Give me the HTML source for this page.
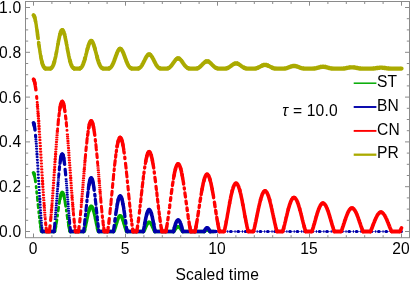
<!DOCTYPE html>
<html><head><meta charset="utf-8"><title>plot</title>
<style>
html,body{margin:0;padding:0;background:#fff;}
body{width:412px;height:285px;overflow:hidden;position:relative;}
.t{font-family:"Liberation Sans",sans-serif;font-size:15.6px;letter-spacing:0.2px;fill:#000;}
</style></head><body>
<svg width="412" height="285" viewBox="0 0 412 285" style="position:absolute;left:0;top:0">
<rect width="412" height="285" fill="#fff"/>
<g fill="none" stroke="#00aa00" stroke-linecap="round" stroke-linejoin="round"><path d="M37.2 196.9L37.4 198.8L37.5 200.6M37.9 204.3L38.1 206.2L38.3 208.0" stroke-width="2.6"/><path d="M34.6 176.0L34.8 176.9M36.1 186.4L36.3 188.0M36.6 191.5L36.8 193.3M38.7 211.5L38.8 213.2M39.2 216.4L39.4 217.9M40.7 226.9h0M55.8 226.4L55.9 225.4L56.1 224.4M59.8 200.1L60.0 199.1M64.4 198.4L64.6 199.3L64.8 200.4M68.3 223.3L68.5 224.4" stroke-width="2.7"/><path d="M39.8 220.8L39.9 222.2L40.1 223.5M57.4 216.2L57.6 214.9M58.2 211.0L58.3 209.7L58.5 208.4L58.7 207.2M66.3 210.0L66.4 211.2M67.0 215.1L67.2 216.3L67.4 217.6L67.5 218.8" stroke-width="2.8"/><path d="M35.0 178.0L35.2 179.2L35.3 180.5L35.5 181.8M40.5 225.9h0M56.3 223.3L56.5 222.2L56.7 221.1L56.9 219.9M59.3 203.5L59.4 202.3L59.6 201.2M65.0 201.5L65.1 202.6L65.3 203.7L65.5 204.9L65.7 206.2M68.1 222.2h0" stroke-width="2.9"/><path d="M34.2 174.4L34.4 175.1L34.6 176.0M40.7 226.9L40.9 228.0L41.0 228.9L41.2 229.8L41.4 230.6M54.7 231.2L54.8 230.6L55.0 229.8L55.2 229.0L55.4 228.2L55.6 227.3L55.8 226.4M60.0 199.1L60.2 198.1L60.4 197.2L60.5 196.4L60.7 195.6M63.7 195.1L63.9 195.8L64.0 196.6L64.2 197.5L64.4 198.4M68.5 224.4L68.6 225.4L68.8 226.3L69.0 227.2L69.2 228.1L69.4 228.9L69.6 229.7L69.7 230.4M84.7 230.0L84.8 229.3L85.0 228.6L85.2 227.9L85.4 227.1L85.6 226.4L85.8 225.6L85.9 224.7L86.1 223.9L86.3 223.0L86.5 222.1L86.7 221.3L86.9 220.4L87.0 219.5L87.2 218.6L87.4 217.7L87.6 216.8L87.8 215.9L88.0 215.0L88.1 214.2L88.3 213.4L88.5 212.6L88.7 211.8L88.9 211.1M93.5 210.6L93.7 211.3L93.9 212.0L94.0 212.8L94.2 213.6L94.4 214.4L94.6 215.3L94.8 216.1L95.0 217.0L95.1 217.9L95.3 218.8L95.5 219.6L95.7 220.5L95.9 221.4L96.1 222.3L96.2 223.1L96.4 224.0L96.6 224.8L96.8 225.6L97.0 226.4L97.2 227.2L97.3 227.9L97.5 228.6" stroke-width="3.1"/><path d="M33.5 172.8L33.7 173.0L33.9 173.3L34.1 173.8L34.2 174.4M41.4 230.6L41.6 231.4M41.6 231.4L41.8 231.5L42.0 231.5L42.1 231.5L42.3 231.5L42.5 231.5L42.7 231.5L42.9 231.5L43.1 231.5L43.3 231.5L43.4 231.5L43.6 231.5L43.8 231.5L44.0 231.5L44.2 231.5L44.4 231.5L44.5 231.5L44.7 231.5L44.9 231.5L45.1 231.5L45.3 231.5L45.5 231.5L45.6 231.5L45.8 231.5L46.0 231.5L46.2 231.5L46.4 231.5L46.6 231.5L46.7 231.5L46.9 231.5L47.1 231.5L47.3 231.5L47.5 231.5L47.7 231.5L47.9 231.5L48.0 231.5L48.2 231.5L48.4 231.5L48.6 231.5L48.8 231.5L49.0 231.5L49.1 231.5L49.3 231.5L49.5 231.5L49.7 231.5L49.9 231.5L50.1 231.5L50.2 231.5L50.4 231.5L50.6 231.5L50.8 231.5L51.0 231.5L51.2 231.5L51.3 231.5L51.5 231.5L51.7 231.5L51.9 231.5L52.1 231.5L52.3 231.5L52.5 231.5L52.6 231.5L52.8 231.5L53.0 231.5L53.2 231.5L53.4 231.5L53.6 231.5L53.7 231.5L53.9 231.5L54.1 231.5L54.3 231.5M54.3 231.5L54.5 231.5L54.7 231.2M60.7 195.6L60.9 194.9L61.1 194.3L61.3 193.8L61.5 193.4L61.7 193.0L61.8 192.8L62.0 192.6M62.0 192.6L62.2 192.5L62.4 192.5M62.4 192.5L62.6 192.6L62.8 192.8L62.9 193.1L63.1 193.5L63.3 194.0L63.5 194.5L63.7 195.1M69.7 230.4L69.9 231.1L70.1 231.5M70.1 231.5L70.3 231.5L70.5 231.5L70.7 231.5L70.9 231.5L71.0 231.5L71.2 231.5L71.4 231.5L71.6 231.5L71.8 231.5L72.0 231.5L72.1 231.5L72.3 231.5L72.5 231.5L72.7 231.5L72.9 231.5L73.1 231.5L73.2 231.5L73.4 231.5L73.6 231.5L73.8 231.5L74.0 231.5L74.2 231.5L74.3 231.5L74.5 231.5L74.7 231.5L74.9 231.5L75.1 231.5L75.3 231.5L75.5 231.5L75.6 231.5L75.8 231.5L76.0 231.5L76.2 231.5L76.4 231.5L76.6 231.5L76.7 231.5L76.9 231.5L77.1 231.5L77.3 231.5L77.5 231.5L77.7 231.5L77.8 231.5L78.0 231.5L78.2 231.5L78.4 231.5L78.6 231.5L78.8 231.5L78.9 231.5L79.1 231.5L79.3 231.5L79.5 231.5L79.7 231.5L79.9 231.5L80.1 231.5L80.2 231.5L80.4 231.5L80.6 231.5L80.8 231.5L81.0 231.5L81.2 231.5L81.3 231.5L81.5 231.5L81.7 231.5L81.9 231.5L82.1 231.5L82.3 231.5L82.4 231.5L82.6 231.5L82.8 231.5L83.0 231.5L83.2 231.5L83.4 231.5L83.5 231.5L83.7 231.5L83.9 231.5M83.9 231.5L84.1 231.5L84.3 231.2L84.5 230.6L84.7 230.0M88.9 211.1L89.1 210.4L89.3 209.8L89.4 209.2L89.6 208.6L89.8 208.1L90.0 207.7L90.2 207.3L90.4 206.9L90.5 206.7L90.7 206.5L90.9 206.3M90.9 206.3L91.1 206.2L91.3 206.2L91.5 206.3M91.5 206.3L91.6 206.4L91.8 206.5L92.0 206.8L92.2 207.1L92.4 207.4L92.6 207.8L92.7 208.3L92.9 208.8L93.1 209.4L93.3 210.0L93.5 210.6M97.5 228.6L97.7 229.3L97.9 229.9L98.1 230.6L98.3 231.1L98.5 231.5M98.5 231.5L98.6 231.5L98.8 231.5L99.0 231.5L99.2 231.5L99.4 231.5L99.6 231.5L99.7 231.5L99.9 231.5L100.1 231.5L100.3 231.5L100.5 231.5L100.7 231.5L100.8 231.5L101.0 231.5L101.2 231.5L101.4 231.5L101.6 231.5L101.8 231.5L101.9 231.5L102.1 231.5L102.3 231.5L102.5 231.5L102.7 231.5L102.9 231.5L103.1 231.5L103.2 231.5L103.4 231.5L103.6 231.5L103.8 231.5L104.0 231.5L104.2 231.5L104.3 231.5L104.5 231.5L104.7 231.5L104.9 231.5L105.1 231.5L105.3 231.5L105.4 231.5L105.6 231.5L105.8 231.5L106.0 231.5L106.2 231.5L106.4 231.5L106.5 231.5L106.7 231.5L106.9 231.5L107.1 231.5L107.3 231.5L107.5 231.5L107.7 231.5L107.8 231.5L108.0 231.5L108.2 231.5L108.4 231.5L108.6 231.5L108.8 231.5L108.9 231.5L109.1 231.5L109.3 231.5L109.5 231.5L109.7 231.5L109.9 231.5L110.0 231.5L110.2 231.5L110.4 231.5L110.6 231.5L110.8 231.5L111.0 231.5L111.1 231.5L111.3 231.5L111.5 231.5L111.7 231.5L111.9 231.5L112.1 231.5L112.3 231.5L112.4 231.5L112.6 231.5L112.8 231.5L113.0 231.5L113.2 231.5L113.4 231.5L113.5 231.5L113.7 231.5M113.7 231.5L113.9 231.4L114.1 230.9L114.3 230.4L114.5 229.9L114.6 229.3L114.8 228.8L115.0 228.2L115.2 227.6L115.4 227.0L115.6 226.4L115.7 225.8L115.9 225.2L116.1 224.5L116.3 223.9L116.5 223.3L116.7 222.7L116.9 222.1L117.0 221.5L117.2 220.9L117.4 220.4L117.6 219.8L117.8 219.3L118.0 218.8L118.1 218.4L118.3 217.9L118.5 217.5L118.7 217.2L118.9 216.8L119.1 216.6L119.2 216.3L119.4 216.1L119.6 215.9L119.8 215.8M119.8 215.8L120.0 215.7L120.2 215.7L120.3 215.7L120.5 215.8M120.5 215.8L120.7 215.9L120.9 216.0L121.1 216.2L121.3 216.4L121.5 216.7L121.6 217.0L121.8 217.3L122.0 217.7L122.2 218.1L122.4 218.5L122.6 219.0L122.7 219.5L122.9 220.0L123.1 220.5L123.3 221.1L123.5 221.7L123.7 222.3L123.8 222.9L124.0 223.5L124.2 224.1L124.4 224.7L124.6 225.3L124.8 225.9L124.9 226.5L125.1 227.1L125.3 227.7L125.5 228.3L125.7 228.9L125.9 229.4L126.1 230.0L126.2 230.5L126.4 231.0L126.6 231.4M126.6 231.4L126.8 231.5L127.0 231.5L127.2 231.5L127.3 231.5L127.5 231.5L127.7 231.5L127.9 231.5L128.1 231.5L128.3 231.5L128.4 231.5L128.6 231.5L128.8 231.5L129.0 231.5L129.2 231.5L129.4 231.5L129.5 231.5L129.7 231.5L129.9 231.5L130.1 231.5L130.3 231.5L130.5 231.5L130.7 231.5L130.8 231.5L131.0 231.5L131.2 231.5L131.4 231.5L131.6 231.5L131.8 231.5L131.9 231.5L132.1 231.5L132.3 231.5L132.5 231.5L132.7 231.5L132.9 231.5L133.0 231.5L133.2 231.5L133.4 231.5L133.6 231.5L133.8 231.5L134.0 231.5L134.1 231.5L134.3 231.5L134.5 231.5L134.7 231.5L134.9 231.5L135.1 231.5L135.3 231.5L135.4 231.5L135.6 231.5L135.8 231.5L136.0 231.5L136.2 231.5L136.4 231.5L136.5 231.5L136.7 231.5L136.9 231.5L137.1 231.5L137.3 231.5L137.5 231.5L137.6 231.5L137.8 231.5L138.0 231.5L138.2 231.5L138.4 231.5L138.6 231.5L138.7 231.5L138.9 231.5L139.1 231.5L139.3 231.5L139.5 231.5L139.7 231.5L139.9 231.5L140.0 231.5L140.2 231.5L140.4 231.5L140.6 231.5L140.8 231.5L141.0 231.5L141.1 231.5L141.3 231.5L141.5 231.5L141.7 231.5L141.9 231.5L142.1 231.5L142.2 231.5L142.4 231.5L142.6 231.5L142.8 231.5L143.0 231.5L143.2 231.5L143.3 231.5L143.5 231.5M143.5 231.5L143.7 231.5L143.9 231.1L144.1 230.7L144.3 230.3L144.5 229.9L144.6 229.4L144.8 229.0L145.0 228.6L145.2 228.1L145.4 227.7L145.6 227.3L145.7 226.9L145.9 226.5L146.1 226.1L146.3 225.7L146.5 225.3L146.7 224.9L146.8 224.6L147.0 224.2L147.2 223.9L147.4 223.7L147.6 223.4L147.8 223.2L147.9 222.9L148.1 222.8L148.3 222.6L148.5 222.5L148.7 222.4M148.7 222.4L148.9 222.3L149.1 222.3L149.2 222.3L149.4 222.3L149.6 222.3M149.6 222.3L149.8 222.4L150.0 222.5L150.2 222.7L150.3 222.8L150.5 223.0L150.7 223.3L150.9 223.5L151.1 223.8L151.3 224.1L151.4 224.4L151.6 224.7L151.8 225.1L152.0 225.4L152.2 225.8L152.4 226.2L152.5 226.6L152.7 227.0L152.9 227.4L153.1 227.9L153.3 228.3L153.5 228.7L153.7 229.1L153.8 229.6L154.0 230.0L154.2 230.4L154.4 230.8L154.6 231.2L154.8 231.5M154.8 231.5L154.9 231.5L155.1 231.5L155.3 231.5L155.5 231.5L155.7 231.5L155.9 231.5L156.0 231.5L156.2 231.5L156.4 231.5L156.6 231.5L156.8 231.5L157.0 231.5L157.1 231.5L157.3 231.5L157.5 231.5L157.7 231.5L157.9 231.5L158.1 231.5L158.3 231.5L158.4 231.5L158.6 231.5L158.8 231.5L159.0 231.5L159.2 231.5L159.4 231.5L159.5 231.5L159.7 231.5L159.9 231.5L160.1 231.5L160.3 231.5L160.5 231.5L160.6 231.5L160.8 231.5L161.0 231.5L161.2 231.5L161.4 231.5L161.6 231.5L161.7 231.5L161.9 231.5L162.1 231.5L162.3 231.5L162.5 231.5L162.7 231.5L162.9 231.5L163.0 231.5L163.2 231.5L163.4 231.5L163.6 231.5L163.8 231.5L164.0 231.5L164.1 231.5L164.3 231.5L164.5 231.5L164.7 231.5L164.9 231.5L165.1 231.5L165.2 231.5L165.4 231.5L165.6 231.5L165.8 231.5L166.0 231.5L166.2 231.5L166.3 231.5L166.5 231.5L166.7 231.5L166.9 231.5L167.1 231.5L167.3 231.5L167.5 231.5L167.6 231.5L167.8 231.5L168.0 231.5L168.2 231.5L168.4 231.5L168.6 231.5L168.7 231.5L168.9 231.5L169.1 231.5L169.3 231.5L169.5 231.5L169.7 231.5L169.8 231.5L170.0 231.5L170.2 231.5L170.4 231.5L170.6 231.5L170.8 231.5L170.9 231.5L171.1 231.5L171.3 231.5L171.5 231.5L171.7 231.5L171.9 231.5L172.1 231.5L172.2 231.5L172.4 231.5L172.6 231.5L172.8 231.5L173.0 231.5L173.2 231.5L173.3 231.5L173.5 231.5M173.5 231.5L173.7 231.5L173.9 231.3L174.1 231.0L174.3 230.7L174.4 230.4L174.6 230.1L174.8 229.8L175.0 229.6L175.2 229.3L175.4 229.0L175.5 228.8L175.7 228.5L175.9 228.3L176.1 228.1L176.3 227.9L176.5 227.7L176.7 227.5L176.8 227.3L177.0 227.2L177.2 227.1L177.4 227.0M177.4 227.0L177.6 226.9L177.8 226.9L177.9 226.8L178.1 226.8L178.3 226.8L178.5 226.8L178.7 226.9L178.9 226.9M178.9 226.9L179.0 227.0L179.2 227.1L179.4 227.3L179.6 227.4L179.8 227.6L180.0 227.8L180.1 228.0L180.3 228.2L180.5 228.4L180.7 228.6L180.9 228.9L181.1 229.1L181.3 229.4L181.4 229.7L181.6 230.0L181.8 230.2L182.0 230.5L182.2 230.8L182.4 231.1L182.5 231.4M182.5 231.4L182.7 231.5L182.9 231.5L183.1 231.5L183.3 231.5L183.5 231.5L183.6 231.5L183.8 231.5L184.0 231.5L184.2 231.5L184.4 231.5L184.6 231.5L184.7 231.5L184.9 231.5L185.1 231.5L185.3 231.5L185.5 231.5L185.7 231.5L185.9 231.5L186.0 231.5L186.2 231.5L186.4 231.5L186.6 231.5L186.8 231.5L187.0 231.5L187.1 231.5L187.3 231.5L187.5 231.5L187.7 231.5L187.9 231.5L188.1 231.5L188.2 231.5L188.4 231.5L188.6 231.5L188.8 231.5L189.0 231.5L189.2 231.5L189.3 231.5L189.5 231.5L189.7 231.5L189.9 231.5L190.1 231.5L190.3 231.5L190.5 231.5L190.6 231.5L190.8 231.5L191.0 231.5L191.2 231.5L191.4 231.5L191.6 231.5L191.7 231.5L191.9 231.5L192.1 231.5L192.3 231.5L192.5 231.5L192.7 231.5L192.8 231.5L193.0 231.5L193.2 231.5L193.4 231.5L193.6 231.5L193.8 231.5L193.9 231.5L194.1 231.5L194.3 231.5L194.5 231.5L194.7 231.5L194.9 231.5L195.1 231.5L195.2 231.5L195.4 231.5L195.6 231.5L195.8 231.5L196.0 231.5L196.2 231.5L196.3 231.5L196.5 231.5L196.7 231.5L196.9 231.5L197.1 231.5L197.3 231.5L197.4 231.5L197.6 231.5L197.8 231.5L198.0 231.5L198.2 231.5L198.4 231.5L198.5 231.5L198.7 231.5L198.9 231.5L199.1 231.5L199.3 231.5L199.5 231.5L199.7 231.5L199.8 231.5L200.0 231.5L200.2 231.5L200.4 231.5L200.6 231.5L200.8 231.5L200.9 231.5L201.1 231.5L201.3 231.5L201.5 231.5L201.7 231.5L201.9 231.5L202.0 231.5L202.2 231.5L202.4 231.5L202.6 231.5L202.8 231.5L203.0 231.5L203.1 231.5L203.3 231.5L203.5 231.5L203.7 231.5L203.9 231.5L204.1 231.5L204.3 231.5M204.3 231.5L204.4 231.4L204.6 231.2L204.8 231.0L205.0 230.9L205.2 230.7L205.4 230.6L205.5 230.5L205.7 230.4L205.9 230.3L206.1 230.2M206.1 230.2L206.3 230.1L206.5 230.0L206.6 230.0L206.8 230.0L207.0 229.9L207.2 229.9L207.4 230.0L207.6 230.0L207.7 230.0L207.9 230.1L208.1 230.1M208.1 230.1L208.3 230.2L208.5 230.3L208.7 230.4L208.9 230.5L209.0 230.7L209.2 230.8L209.4 231.0L209.6 231.1L209.8 231.3L210.0 231.5M210.0 231.5L210.1 231.5L210.3 231.5L210.5 231.5L210.7 231.5L210.9 231.5L211.1 231.5L211.2 231.5L211.4 231.5L211.6 231.5L211.8 231.5L212.0 231.5L212.2 231.5L212.3 231.5L212.5 231.5L212.7 231.5L212.9 231.5L213.1 231.5L213.3 231.5L213.5 231.5L213.6 231.5L213.8 231.5" stroke-width="3.6"/></g>
<g fill="none" stroke="#0000aa" stroke-linecap="round" stroke-linejoin="round"><path d="M35.2 139.3h1.4M41.1 227.2h1.4M54.5 219.1h1.4M57.7 180.0h1.4M57.8 177.9h1.4M65.4 179.1h1.4M65.6 181.2h1.4M68.3 215.3h1.4M68.5 217.4h1.4" stroke-width="1.7"/><path d="M35.4 141.5h1.3M40.8 222.8h1.3M40.9 225.1h1.3M54.7 216.9h1.3M54.9 214.7h1.3M55.1 212.5h1.3M55.3 210.2h1.3M57.2 186.7h1.3M57.5 182.2h1.3M65.8 183.4h1.3M66.0 185.6h1.3M66.2 187.9h1.3M66.4 190.2h1.3M67.5 204.0h1.3M67.6 206.3h1.3M67.8 208.6h1.3M68.0 210.9h1.3M68.2 213.1h1.3" stroke-width="1.8"/><path d="M35.7 143.8h1.2M40.6 220.5h1.2M55.5 207.9h1.2M55.7 205.5h1.2M55.9 203.2h1.2M56.1 200.8h1.2M56.3 198.4h1.2M56.5 196.1h1.2M56.6 193.7h1.2M56.8 191.3h1.2M57.0 189.0h1.2M66.5 192.5h1.2M66.7 194.8h1.2M66.9 197.1h1.2M67.1 199.4h1.2M67.3 201.7h1.2" stroke-width="1.9"/><path d="M35.9 146.3h1.1M40.3 215.5h1.1M40.5 218.0h1.1" stroke-width="2.0"/><path d="M36.1 148.8h1.0M36.3 151.5h1.0M40.2 212.9h1.0" stroke-width="2.1"/><path d="M36.7 157.0h0.9M36.9 159.8h0.9M37.1 162.7h0.9M37.3 165.7h0.9M37.5 168.7h0.9M37.6 171.7h0.9M37.8 174.7h0.9M38.0 177.8h0.9M38.2 180.9h0.9M38.4 183.9h0.9M38.6 187.0h0.9M38.8 190.0h0.9M38.9 193.0h0.9M39.1 196.0h0.9M39.5 201.9h0.9M39.7 204.7h0.9M39.9 207.5h0.9M40.0 210.3h0.9" stroke-width="2.2"/><path d="M42.0 229.3h0M58.7 175.8L58.9 173.8M69.4 219.5L69.6 221.5L69.7 223.5" stroke-width="3.0"/><path d="M35.5 135.2L35.7 137.2M54.3 229.1L54.5 227.2L54.7 225.3L54.8 223.3M59.3 169.9L59.4 168.2L59.6 166.5M70.1 227.3L70.3 229.1M85.9 210.6L86.1 208.8L86.3 207.0L86.5 205.2" stroke-width="3.1"/><path d="M65.1 169.3L65.3 171.1L65.5 173.0L65.7 175.0M84.5 224.6L84.7 223.0L84.8 221.2L85.0 219.5M85.4 215.9L85.6 214.2M86.9 201.7L87.0 200.0M87.4 196.7L87.6 195.1L87.8 193.5L88.0 192.0M95.3 199.3L95.5 201.0L95.7 202.7L95.9 204.4M96.2 207.9L96.4 209.7L96.6 211.4L96.8 213.2M97.2 216.7L97.3 218.4L97.5 220.1M97.9 223.5L98.1 225.1L98.3 226.7" stroke-width="3.2"/><path d="M37.0 154.2h0M39.8 199.0h0M58.0 184.4h0M60.0 163.4L60.2 161.9M83.9 229.5L84.1 227.9M94.8 194.5L95.0 196.1M98.6 229.8h0" stroke-width="3.3"/><path d="M34.8 128.6L35.0 130.0M42.3 231.5L42.5 231.5L42.7 231.5L42.9 231.5L43.1 231.5L43.3 231.5L43.4 231.5L43.6 231.5L43.8 231.5L44.0 231.5L44.2 231.5L44.4 231.5L44.5 231.5L44.7 231.5L44.9 231.5L45.1 231.5L45.3 231.5L45.5 231.5L45.6 231.5L45.8 231.5L46.0 231.5L46.2 231.5L46.4 231.5L46.6 231.5L46.7 231.5L46.9 231.5L47.1 231.5L47.3 231.5L47.5 231.5L47.7 231.5L47.9 231.5L48.0 231.5L48.2 231.5L48.4 231.5L48.6 231.5L48.8 231.5L49.0 231.5L49.1 231.5L49.3 231.5L49.5 231.5L49.7 231.5L49.9 231.5L50.1 231.5L50.2 231.5L50.4 231.5L50.6 231.5L50.8 231.5L51.0 231.5L51.2 231.5L51.3 231.5L51.5 231.5L51.7 231.5L51.9 231.5L52.1 231.5L52.3 231.5L52.5 231.5L52.6 231.5L52.8 231.5L53.0 231.5L53.2 231.5L53.4 231.5L53.6 231.5L53.7 231.5M62.0 154.3L62.2 154.2M64.2 161.5L64.4 162.9L64.6 164.4M70.7 231.5L70.9 231.5L71.0 231.5L71.2 231.5L71.4 231.5L71.6 231.5L71.8 231.5L72.0 231.5L72.1 231.5L72.3 231.5L72.5 231.5L72.7 231.5L72.9 231.5L73.1 231.5L73.2 231.5L73.4 231.5L73.6 231.5L73.8 231.5L74.0 231.5L74.2 231.5L74.3 231.5L74.5 231.5L74.7 231.5L74.9 231.5L75.1 231.5L75.3 231.5L75.5 231.5L75.6 231.5L75.8 231.5L76.0 231.5L76.2 231.5L76.4 231.5L76.6 231.5L76.7 231.5L76.9 231.5L77.1 231.5L77.3 231.5L77.5 231.5L77.7 231.5L77.8 231.5L78.0 231.5L78.2 231.5L78.4 231.5L78.6 231.5L78.8 231.5L78.9 231.5L79.1 231.5L79.3 231.5L79.5 231.5L79.7 231.5L79.9 231.5L80.1 231.5L80.2 231.5L80.4 231.5L80.6 231.5L80.8 231.5L81.0 231.5L81.2 231.5L81.3 231.5L81.5 231.5L81.7 231.5L81.9 231.5L82.1 231.5L82.3 231.5L82.4 231.5L82.6 231.5L82.8 231.5L83.0 231.5L83.2 231.5L83.4 231.5M88.3 189.2h0M90.9 178.1L91.1 178.0L91.3 178.0M94.0 188.8L94.2 190.2M99.0 231.5L99.2 231.5L99.4 231.5L99.6 231.5L99.7 231.5L99.9 231.5L100.1 231.5L100.3 231.5L100.5 231.5L100.7 231.5L100.8 231.5L101.0 231.5L101.2 231.5L101.4 231.5L101.6 231.5L101.8 231.5L101.9 231.5L102.1 231.5L102.3 231.5L102.5 231.5L102.7 231.5L102.9 231.5L103.1 231.5L103.2 231.5L103.4 231.5L103.6 231.5L103.8 231.5L104.0 231.5L104.2 231.5L104.3 231.5L104.5 231.5L104.7 231.5L104.9 231.5L105.1 231.5L105.3 231.5L105.4 231.5L105.6 231.5L105.8 231.5L106.0 231.5L106.2 231.5L106.4 231.5L106.5 231.5L106.7 231.5L106.9 231.5L107.1 231.5L107.3 231.5L107.5 231.5L107.7 231.5L107.8 231.5L108.0 231.5L108.2 231.5L108.4 231.5L108.6 231.5L108.8 231.5L108.9 231.5L109.1 231.5L109.3 231.5L109.5 231.5L109.7 231.5L109.9 231.5L110.0 231.5L110.2 231.5L110.4 231.5L110.6 231.5L110.8 231.5L111.0 231.5L111.1 231.5L111.3 231.5L111.5 231.5L111.7 231.5L111.9 231.5L112.1 231.5L112.3 231.5L112.4 231.5L112.6 231.5L112.8 231.5L113.0 231.5L113.2 231.5M113.7 229.4L113.9 228.1L114.1 226.8L114.3 225.4M114.8 221.3L115.0 220.0L115.2 218.6M115.7 214.6L115.9 213.3M120.0 196.1L120.2 196.0L120.3 196.0M124.8 215.4L124.9 216.7M125.5 220.7L125.7 222.1L125.9 223.4M126.4 227.3h0M127.2 231.5L127.3 231.5L127.5 231.5L127.7 231.5L127.9 231.5L128.1 231.5L128.3 231.5L128.4 231.5L128.6 231.5L128.8 231.5L129.0 231.5L129.2 231.5L129.4 231.5L129.5 231.5L129.7 231.5L129.9 231.5L130.1 231.5L130.3 231.5L130.5 231.5L130.7 231.5L130.8 231.5L131.0 231.5L131.2 231.5L131.4 231.5L131.6 231.5L131.8 231.5L131.9 231.5L132.1 231.5L132.3 231.5L132.5 231.5L132.7 231.5L132.9 231.5L133.0 231.5L133.2 231.5L133.4 231.5L133.6 231.5L133.8 231.5L134.0 231.5L134.1 231.5L134.3 231.5L134.5 231.5L134.7 231.5L134.9 231.5L135.1 231.5L135.3 231.5L135.4 231.5L135.6 231.5L135.8 231.5L136.0 231.5L136.2 231.5L136.4 231.5L136.5 231.5L136.7 231.5L136.9 231.5L137.1 231.5L137.3 231.5L137.5 231.5L137.6 231.5L137.8 231.5L138.0 231.5L138.2 231.5L138.4 231.5L138.6 231.5L138.7 231.5L138.9 231.5L139.1 231.5L139.3 231.5L139.5 231.5L139.7 231.5L139.9 231.5L140.0 231.5L140.2 231.5L140.4 231.5L140.6 231.5L140.8 231.5L141.0 231.5L141.1 231.5L141.3 231.5L141.5 231.5L141.7 231.5L141.9 231.5L142.1 231.5L142.2 231.5L142.4 231.5L142.6 231.5L142.8 231.5L143.0 231.5L143.2 231.5M148.9 209.7L149.1 209.7L149.2 209.7M155.1 231.5L155.3 231.5L155.5 231.5L155.7 231.5L155.9 231.5L156.0 231.5L156.2 231.5L156.4 231.5L156.6 231.5L156.8 231.5L157.0 231.5L157.1 231.5L157.3 231.5L157.5 231.5L157.7 231.5L157.9 231.5L158.1 231.5L158.3 231.5L158.4 231.5L158.6 231.5L158.8 231.5L159.0 231.5L159.2 231.5L159.4 231.5L159.5 231.5L159.7 231.5L159.9 231.5L160.1 231.5L160.3 231.5L160.5 231.5L160.6 231.5L160.8 231.5L161.0 231.5L161.2 231.5L161.4 231.5L161.6 231.5L161.7 231.5L161.9 231.5L162.1 231.5L162.3 231.5L162.5 231.5L162.7 231.5L162.9 231.5L163.0 231.5L163.2 231.5L163.4 231.5L163.6 231.5L163.8 231.5L164.0 231.5L164.1 231.5L164.3 231.5L164.5 231.5L164.7 231.5L164.9 231.5L165.1 231.5L165.2 231.5L165.4 231.5L165.6 231.5L165.8 231.5L166.0 231.5L166.2 231.5L166.3 231.5L166.5 231.5L166.7 231.5L166.9 231.5L167.1 231.5L167.3 231.5L167.5 231.5L167.6 231.5L167.8 231.5L168.0 231.5L168.2 231.5L168.4 231.5L168.6 231.5L168.7 231.5L168.9 231.5L169.1 231.5L169.3 231.5L169.5 231.5L169.7 231.5L169.8 231.5L170.0 231.5L170.2 231.5L170.4 231.5L170.6 231.5L170.8 231.5L170.9 231.5L171.1 231.5L171.3 231.5L171.5 231.5L171.7 231.5L171.9 231.5L172.1 231.5L172.2 231.5L172.4 231.5L172.6 231.5L172.8 231.5L173.0 231.5L173.2 231.5L173.3 231.5M177.8 220.1L177.9 220.1L178.1 220.0L178.3 220.1M182.9 231.5L183.1 231.5L183.3 231.5L183.5 231.5L183.6 231.5L183.8 231.5L184.0 231.5L184.2 231.5L184.4 231.5L184.6 231.5L184.7 231.5L184.9 231.5L185.1 231.5L185.3 231.5L185.5 231.5L185.7 231.5L185.9 231.5L186.0 231.5L186.2 231.5L186.4 231.5L186.6 231.5L186.8 231.5L187.0 231.5L187.1 231.5L187.3 231.5L187.5 231.5L187.7 231.5L187.9 231.5L188.1 231.5L188.2 231.5L188.4 231.5L188.6 231.5L188.8 231.5L189.0 231.5L189.2 231.5L189.3 231.5L189.5 231.5L189.7 231.5L189.9 231.5L190.1 231.5L190.3 231.5L190.5 231.5L190.6 231.5L190.8 231.5L191.0 231.5L191.2 231.5L191.4 231.5L191.6 231.5L191.7 231.5L191.9 231.5L192.1 231.5L192.3 231.5L192.5 231.5L192.7 231.5L192.8 231.5L193.0 231.5L193.2 231.5L193.4 231.5L193.6 231.5L193.8 231.5L193.9 231.5L194.1 231.5L194.3 231.5L194.5 231.5L194.7 231.5L194.9 231.5L195.1 231.5L195.2 231.5L195.4 231.5L195.6 231.5L195.8 231.5L196.0 231.5L196.2 231.5L196.3 231.5L196.5 231.5L196.7 231.5L196.9 231.5L197.1 231.5L197.3 231.5L197.4 231.5L197.6 231.5L197.8 231.5L198.0 231.5L198.2 231.5L198.4 231.5L198.5 231.5L198.7 231.5L198.9 231.5L199.1 231.5L199.3 231.5L199.5 231.5L199.7 231.5L199.8 231.5L200.0 231.5L200.2 231.5L200.4 231.5L200.6 231.5L200.8 231.5L200.9 231.5L201.1 231.5L201.3 231.5L201.5 231.5L201.7 231.5L201.9 231.5L202.0 231.5L202.2 231.5L202.4 231.5L202.6 231.5L202.8 231.5L203.0 231.5L203.1 231.5L203.3 231.5L203.5 231.5L203.7 231.5L203.9 231.5L204.1 231.5M206.6 228.0L206.8 227.9L207.0 227.9L207.2 227.9L207.4 227.9M210.0 231.5L210.1 231.5L210.3 231.5L210.5 231.5L210.7 231.5L210.9 231.5L211.1 231.5L211.2 231.5L211.4 231.5L211.6 231.5L211.8 231.5L212.0 231.5L212.2 231.5L212.3 231.5L212.5 231.5L212.7 231.5L212.9 231.5L213.1 231.5L213.3 231.5L213.5 231.5L213.6 231.5L213.8 231.5L214.0 231.5L214.2 231.5L214.4 231.5L214.6 231.5L214.7 231.5L214.9 231.5L215.1 231.5L215.3 231.5L215.5 231.5L215.7 231.5" stroke-width="3.4"/><path d="M34.2 125.2L34.4 126.1L34.6 127.3M42.1 231.3h0M53.9 231.5L54.1 230.9M60.4 160.6L60.5 159.5L60.7 158.4M63.7 158.1L63.9 159.1L64.0 160.3M70.5 230.9h0M83.5 231.5L83.7 231.1M88.5 187.9L88.7 186.6L88.9 185.5L89.1 184.4M93.1 183.1L93.3 184.1L93.5 185.2L93.7 186.3L93.9 187.5M113.4 231.5L113.5 230.7M116.1 212.0L116.3 210.8L116.5 209.5L116.7 208.3L116.9 207.2L117.0 206.1L117.2 205.0L117.4 204.0M122.9 203.8L123.1 204.8L123.3 205.8L123.5 206.9L123.7 208.0L123.8 209.2L124.0 210.4L124.2 211.6L124.4 212.9L124.6 214.1M126.6 228.6L126.8 229.9M143.3 231.4L143.5 230.4L143.7 229.4L143.9 228.3L144.1 227.3L144.3 226.3L144.5 225.2L144.6 224.2L144.8 223.2M153.7 223.9L153.8 224.9L154.0 225.9L154.2 226.9L154.4 227.9L154.6 228.9L154.8 229.9" stroke-width="3.5"/><path d="M33.9 123.7L34.1 124.3L34.2 125.2M60.7 158.4L60.9 157.4L61.1 156.6M63.1 155.7L63.3 156.4L63.5 157.2L63.7 158.1M89.1 184.4L89.3 183.3L89.4 182.4L89.6 181.5L89.8 180.8M92.4 180.0L92.6 180.6L92.7 181.4L92.9 182.2L93.1 183.1M98.8 231.3h0M117.4 204.0L117.6 203.0L117.8 202.1L118.0 201.2L118.1 200.4L118.3 199.7M121.8 198.9L122.0 199.6L122.2 200.3L122.4 201.1L122.6 201.9L122.7 202.8L122.9 203.8M126.8 229.9L127.0 231.1M144.8 223.2L145.0 222.3L145.2 221.3L145.4 220.4L145.6 219.4L145.7 218.6L145.9 217.7L146.1 216.9L146.3 216.1L146.5 215.3L146.7 214.6M151.4 213.8L151.6 214.5L151.8 215.2L152.0 215.9L152.2 216.7L152.4 217.5L152.5 218.4L152.7 219.2L152.9 220.1L153.1 221.0L153.3 222.0L153.5 222.9L153.7 223.9M154.8 229.9L154.9 230.9M173.5 231.4L173.7 230.7L173.9 229.9L174.1 229.2L174.3 228.5L174.4 227.8M181.6 227.0L181.8 227.6L182.0 228.3L182.2 229.0L182.4 229.7L182.5 230.5" stroke-width="3.6"/><path d="M33.5 122.9L33.7 123.2L33.9 123.7M42.1 231.3L42.3 231.5M53.7 231.5L53.9 231.5M61.1 156.6L61.3 155.9L61.5 155.3L61.7 154.8L61.8 154.5L62.0 154.3M62.2 154.2L62.4 154.2L62.6 154.4L62.8 154.7L62.9 155.1L63.1 155.7M70.5 230.9L70.7 231.5M83.4 231.5L83.5 231.5M89.8 180.8L90.0 180.1L90.2 179.5L90.4 179.0L90.5 178.6L90.7 178.3L90.9 178.1M91.3 178.0L91.5 178.1L91.6 178.3L91.8 178.5L92.0 178.9L92.2 179.4L92.4 180.0M98.8 231.3L99.0 231.5M113.2 231.5L113.4 231.5M118.3 199.7L118.5 199.0L118.7 198.4L118.9 197.9L119.1 197.4L119.2 197.0L119.4 196.6L119.6 196.4L119.8 196.2L120.0 196.1M120.3 196.0L120.5 196.2L120.7 196.3L120.9 196.6L121.1 196.9L121.3 197.3L121.5 197.8L121.6 198.3L121.8 198.9M127.0 231.1L127.2 231.5M143.2 231.5L143.3 231.4M146.7 214.6L146.8 213.9L147.0 213.3L147.2 212.7L147.4 212.2L147.6 211.7L147.8 211.3L147.9 210.9L148.1 210.5L148.3 210.3L148.5 210.0L148.7 209.9L148.9 209.7M149.2 209.7L149.4 209.7L149.6 209.8L149.8 210.0L150.0 210.2L150.2 210.5L150.3 210.8L150.5 211.2L150.7 211.6L150.9 212.1L151.1 212.6L151.3 213.2L151.4 213.8M154.9 230.9L155.1 231.5M173.3 231.5L173.5 231.4M174.4 227.8L174.6 227.1L174.8 226.4L175.0 225.8L175.2 225.2L175.4 224.6L175.5 224.0L175.7 223.5L175.9 223.0L176.1 222.5L176.3 222.1L176.5 221.7L176.7 221.4L176.8 221.1L177.0 220.8L177.2 220.6L177.4 220.4L177.6 220.2L177.8 220.1M178.3 220.1L178.5 220.1L178.7 220.2L178.9 220.4L179.0 220.6L179.2 220.8L179.4 221.0L179.6 221.4L179.8 221.7L180.0 222.1L180.1 222.5L180.3 223.0L180.5 223.4L180.7 224.0L180.9 224.5L181.1 225.1L181.3 225.7L181.4 226.3L181.6 227.0M182.5 230.5L182.7 231.2L182.9 231.5M204.1 231.5L204.3 231.5L204.4 231.1L204.6 230.7L204.8 230.3L205.0 229.9L205.2 229.6L205.4 229.3L205.5 229.0L205.7 228.8L205.9 228.5L206.1 228.4L206.3 228.2L206.5 228.1L206.6 228.0M207.4 227.9L207.6 228.0L207.7 228.1L207.9 228.2L208.1 228.4L208.3 228.5L208.5 228.8L208.7 229.0L208.9 229.3L209.0 229.6L209.2 229.9L209.4 230.3L209.6 230.7L209.8 231.1L210.0 231.5" stroke-width="3.7"/></g>
<path d="M215.7 231.5H401.5" stroke="#0000aa" stroke-width="1" stroke-opacity="0.55" fill="none"/>
<path d="M215.7 231.5H401.5" stroke="#0000aa" stroke-width="3.0" stroke-linecap="round" stroke-dasharray="0.7 6.7" fill="none"/>
<path d="M215.7 231.5H401.5" stroke="#0000aa" stroke-width="2.6" stroke-dasharray="1.1 6.3" stroke-dashoffset="-4.0" fill="none"/>
<g fill="none" stroke="#ff0000" stroke-linecap="round" stroke-linejoin="round"><path d="M36.6 104.4h1.6M44.3 217.0h1.6M50.4 214.4h1.6M56.4 133.0h1.6M66.6 134.4h1.6M72.4 211.0h1.6M80.5 204.8h1.6M80.7 202.6h1.6M83.7 167.1h1.6M83.9 164.9h1.6M84.0 162.8h1.6M97.1 165.9h1.6M97.3 168.0h1.6M97.5 170.2h1.6M97.7 172.3h1.6M97.9 174.5h1.6M98.0 176.6h1.6M98.2 178.8h1.6M98.6 183.1h1.6M98.8 185.3h1.6M99.0 187.5h1.6M99.1 189.6h1.6M99.5 193.9h1.6M99.7 196.0h1.6" stroke-width="1.7"/><path d="M37.0 108.9h1.5M44.0 212.6h1.5M44.1 214.8h1.5M50.6 212.2h1.5M51.0 207.8h1.5M56.0 139.7h1.5M56.1 137.4h1.5M56.3 135.2h1.5M66.8 136.5h1.5M67.0 138.7h1.5M67.2 141.0h1.5M71.8 202.3h1.5M72.1 206.7h1.5M81.1 198.3h1.5M81.3 196.1h1.5M81.5 193.9h1.5M81.7 191.7h1.5M81.9 189.4h1.5M82.1 187.2h1.5M82.3 184.9h1.5M82.4 182.7h1.5M82.6 180.4h1.5M82.8 178.2h1.5M83.0 175.9h1.5M83.2 173.7h1.5M83.3 171.5h1.5" stroke-width="1.8"/><path d="M37.2 111.2h1.4M43.7 207.9h1.4M43.8 210.2h1.4M51.4 203.1h1.4M55.5 146.8h1.4M55.6 144.4h1.4M55.8 142.0h1.4M67.4 143.3h1.4M67.6 145.6h1.4M67.8 148.0h1.4M68.0 150.4h1.4M71.1 192.8h1.4M71.3 195.2h1.4M71.6 199.9h1.4" stroke-width="1.9"/><path d="M37.8 118.5h1.3M43.4 202.9h1.3M51.6 200.7h1.3M51.8 198.2h1.3M52.0 195.7h1.3M52.2 193.2h1.3M54.8 156.8h1.3M55.1 151.7h1.3M55.3 149.2h1.3M68.2 152.8h1.3M68.3 155.2h1.3M68.5 157.7h1.3M68.7 160.2h1.3M68.9 162.7h1.3M69.1 165.2h1.3M69.3 167.8h1.3M69.5 170.3h1.3M69.7 172.8h1.3M69.9 175.4h1.3M70.2 180.4h1.3M70.4 182.9h1.3M70.6 185.4h1.3M70.7 187.9h1.3M70.9 190.4h1.3" stroke-width="2.0"/><path d="M38.2 123.6h1.2M43.0 197.7h1.2M43.2 200.3h1.2M52.4 190.6h1.2M52.6 188.1h1.2M52.8 185.5h1.2M53.0 182.9h1.2M53.1 180.3h1.2M53.3 177.6h1.2M53.5 175.0h1.2M53.7 172.4h1.2M54.1 167.1h1.2M54.2 164.5h1.2M54.4 161.9h1.2" stroke-width="2.1"/><path d="M38.6 128.9h1.1M38.8 131.7h1.1M39.0 134.5h1.1M39.2 137.3h1.1M39.4 140.1h1.1M39.6 143.0h1.1M39.8 145.9h1.1M39.9 148.8h1.1M40.1 151.7h1.1M40.3 154.7h1.1M40.5 157.6h1.1M40.7 160.6h1.1M40.9 163.5h1.1M41.0 166.5h1.1M41.2 169.4h1.1M41.4 172.4h1.1M41.6 175.3h1.1M41.8 178.2h1.1M42.3 186.8h1.1M42.5 189.6h1.1M42.7 192.3h1.1M42.9 195.0h1.1" stroke-width="2.2"/><path d="M37.2 102.3h0M45.3 219.0h0M57.6 128.8h0M67.0 130.2h0M73.4 213.1L73.6 215.1M81.2 206.8h0M85.2 158.6L85.4 156.5L85.6 154.5M97.5 161.8L97.7 163.8M100.7 198.1L100.8 200.2L101.0 202.3M101.4 206.3L101.6 208.3L101.8 210.2L101.9 212.1" stroke-width="3.0"/><path d="M36.6 96.5L36.8 98.4M45.6 222.9L45.8 224.8M50.6 220.5L50.8 218.5L51.0 216.5M58.0 124.8L58.2 123.0L58.3 121.2L58.5 119.4M66.3 122.5L66.4 124.3L66.6 126.2M74.0 219.0L74.2 220.8L74.3 222.5M80.4 214.8L80.6 212.9L80.8 210.9M85.9 150.6L86.1 148.7L86.3 146.9M86.7 143.3L86.9 141.6L87.0 140.0L87.2 138.4M95.9 144.6L96.1 146.4L96.2 148.2L96.4 150.0M96.8 153.8L97.0 155.7L97.2 157.7M102.3 215.7L102.5 217.5M109.9 213.7L110.0 212.0L110.2 210.2L110.4 208.4M110.8 204.7L111.0 202.9L111.1 201.0L111.3 199.1M111.7 195.2L111.9 193.3L112.1 191.4M112.4 187.5L112.6 185.6L112.8 183.6M113.2 179.8L113.4 178.0L113.5 176.1L113.7 174.2M114.1 170.6L114.3 168.9M126.4 171.7L126.6 173.5L126.8 175.2L127.0 177.0M127.3 180.7L127.5 182.5M127.9 186.2L128.1 188.1L128.3 190.0M128.6 193.7L128.8 195.5L129.0 197.4L129.2 199.2M129.5 202.9L129.7 204.6L129.9 206.4" stroke-width="3.1"/><path d="M46.2 228.1L46.4 229.6M58.9 116.1L59.1 114.6L59.3 113.2M65.5 115.9L65.7 117.4L65.9 119.1M74.7 225.8L74.9 227.3M79.7 222.0L79.9 220.3L80.1 218.5M95.3 139.7L95.5 141.3M102.9 220.8L103.1 222.4L103.2 223.9L103.4 225.4M114.6 165.4L114.8 163.7L115.0 162.1L115.2 160.5M115.6 157.4L115.7 156.0L115.9 154.5M125.5 163.3L125.7 164.9L125.9 166.6L126.1 168.2M130.3 209.9L130.5 211.6M130.8 214.9L131.0 216.5M131.4 219.6L131.6 221.0M139.3 213.2L139.5 211.7L139.7 210.1M140.0 206.9L140.2 205.3M140.6 202.0L140.8 200.3L141.0 198.7M141.3 195.4L141.5 193.7L141.7 192.1L141.9 190.4M142.2 187.2L142.4 185.6L142.6 184.0L142.8 182.4M143.2 179.3L143.3 177.8L143.5 176.3M156.0 186.4L156.2 188.0L156.4 189.6M156.8 192.7L157.0 194.3L157.1 195.9M157.5 199.1L157.7 200.7L157.9 202.3M158.3 205.5L158.4 207.0L158.6 208.6M159.0 211.6L159.2 213.1L159.4 214.5" stroke-width="3.2"/><path d="M49.5 230.4L49.7 229.0L49.9 227.4L50.1 225.8M59.6 110.5L59.8 109.3M75.3 230.1h0M78.8 229.5L78.9 228.1L79.1 226.7M87.6 135.4L87.8 134.0L88.0 132.7L88.1 131.4M103.8 228.1L104.0 229.4M108.8 223.4L108.9 221.9L109.1 220.3L109.3 218.7M116.3 151.8L116.5 150.5M124.8 157.1L124.9 158.6M131.9 223.8L132.1 225.2M138.2 222.0L138.4 220.6L138.6 219.2L138.7 217.8M143.9 173.5L144.1 172.1M144.6 168.1L144.8 166.9M154.2 171.8L154.4 173.2M154.9 177.4L155.1 178.8L155.3 180.3L155.5 181.8M159.7 217.4L159.9 218.8L160.1 220.1L160.3 221.4M167.8 219.9L168.0 218.6L168.2 217.3M168.7 213.2L168.9 211.9M169.5 207.7L169.7 206.2L169.8 204.8M170.4 200.6L170.6 199.1L170.8 197.7M171.3 193.6L171.5 192.2L171.7 190.8L171.9 189.5M172.4 185.6L172.6 184.3L172.8 183.1L173.0 181.9M184.2 187.8L184.4 189.1M184.9 193.0L185.1 194.4L185.3 195.7L185.5 197.1M186.0 201.2L186.2 202.5L186.4 203.9M187.0 208.0L187.1 209.3L187.3 210.7M187.9 214.6L188.1 215.9L188.2 217.2L188.4 218.4M199.1 207.6L199.3 206.4L199.5 205.1" stroke-width="3.3"/><path d="M35.2 84.8L35.3 86.0L35.5 87.2L35.7 88.5L35.9 89.9M64.6 109.2L64.8 110.4L65.0 111.6M94.0 130.1L94.2 131.3L94.4 132.6L94.6 133.9L94.8 135.2M107.8 229.9L108.0 228.8L108.2 227.5M117.0 147.0h0M123.5 148.1L123.7 149.2L123.8 150.4L124.0 151.7L124.2 153.0M132.7 228.9h0M137.3 228.3L137.5 227.1L137.6 225.9M145.4 163.4h0M153.1 164.4L153.3 165.6L153.5 166.8L153.7 168.0M160.8 225.2L161.0 226.3L161.2 227.5M166.9 225.9L167.1 224.7L167.3 223.5M173.5 178.5h0M182.9 179.5L183.1 180.6L183.3 181.7L183.5 182.9L183.6 184.1M189.0 222.0L189.2 223.1L189.3 224.3M196.9 221.7L197.1 220.6L197.3 219.5M197.8 216.0L198.0 214.8L198.2 213.6L198.4 212.4L198.5 211.2M200.0 201.5L200.2 200.3L200.4 199.2L200.6 198.0M201.1 194.6L201.3 193.5M213.3 195.4L213.5 196.5L213.6 197.7M214.4 202.2L214.6 203.4L214.7 204.6L214.9 205.7L215.1 206.9M215.7 210.4L215.8 211.6L216.0 212.8L216.2 213.9M216.8 217.3L216.9 218.4" stroke-width="3.4"/><path d="M34.8 82.8L35.0 83.8M37.5 106.6h0M38.1 113.5h0M38.3 116.0h0M38.7 121.0h0M39.0 126.3h0M42.5 181.1h0M42.7 183.9h0M44.2 205.4h0M51.5 210.0h0M51.9 205.4h0M54.5 169.7h0M55.2 159.3h0M55.6 154.2h0M57.4 130.9h0M60.0 108.2L60.2 107.2M64.2 107.1L64.4 108.1M70.7 177.9h0M72.1 197.6h0M72.7 204.5h0M73.1 208.9h0M78.4 231.5L78.6 230.7M81.7 200.5h0M84.3 169.3h0M85.0 160.7h0M88.7 128.0h0M93.5 127.0L93.7 128.0L93.9 129.0M99.2 181.0h0M100.1 191.8h0M104.2 230.5h0M117.2 146.0h0M122.9 144.9L123.1 145.9L123.3 147.0M132.9 230.0h0M136.7 231.4L136.9 230.4L137.1 229.4M145.6 162.3L145.7 161.3M152.4 160.3L152.5 161.3L152.7 162.3L152.9 163.3M161.4 228.5L161.6 229.6M166.2 230.0L166.3 229.0L166.5 228.0L166.7 226.9M173.7 177.4L173.9 176.4L174.1 175.4M182.2 175.3L182.4 176.3L182.5 177.3L182.7 178.4M189.5 225.3L189.7 226.4L189.9 227.4M196.0 226.9L196.2 226.0L196.3 224.9L196.5 223.9L196.7 222.8M201.5 192.4L201.7 191.3L201.9 190.3L202.0 189.3M212.2 189.2L212.3 190.2L212.5 191.2L212.7 192.2L212.9 193.3L213.1 194.3M217.1 219.5L217.3 220.6L217.5 221.6L217.7 222.7L217.9 223.7M226.3 221.5L226.5 220.5L226.7 219.5L226.9 218.5L227.1 217.5L227.3 216.4L227.4 215.4L227.6 214.4L227.8 213.3L228.0 212.3L228.2 211.2L228.4 210.2L228.5 209.2L228.7 208.1L228.9 207.1L229.1 206.1L229.3 205.0L229.5 204.0L229.6 203.0M242.9 204.8L243.1 205.7L243.3 206.7L243.4 207.7L243.6 208.7L243.8 209.7L244.0 210.7L244.2 211.8L244.4 212.8L244.5 213.8L244.7 214.8L244.9 215.8L245.1 216.8" stroke-width="3.5"/><path d="M34.2 80.6L34.4 81.3L34.6 82.0L34.8 82.8M46.6 231.0h0M60.2 107.2L60.4 106.2L60.5 105.3L60.7 104.6M63.5 103.8L63.7 104.5L63.9 105.3L64.0 106.1L64.2 107.1M75.5 231.3h0M88.7 128.0L88.9 127.0L89.1 126.1L89.3 125.3L89.4 124.5M92.7 123.8L92.9 124.5L93.1 125.2L93.3 126.1L93.5 127.0M107.5 231.5L107.7 231.1M117.2 146.0L117.4 145.0L117.6 144.0L117.8 143.1L118.0 142.3L118.1 141.6M122.0 140.9L122.2 141.6L122.4 142.3L122.6 143.1L122.7 144.0L122.9 144.9M132.9 230.0L133.0 231.0M145.7 161.3L145.9 160.3L146.1 159.4L146.3 158.5L146.5 157.7L146.7 156.9L146.8 156.2M151.3 155.5L151.4 156.2L151.6 156.9L151.8 157.7L152.0 158.5L152.2 159.4L152.4 160.3M161.6 229.6L161.7 230.5M165.8 231.5L166.0 230.9L166.2 230.0M174.1 175.4L174.3 174.4L174.4 173.4L174.6 172.5L174.8 171.7L175.0 170.9L175.2 170.1L175.4 169.4M180.7 168.7L180.9 169.4L181.1 170.1L181.3 170.9L181.4 171.7L181.6 172.6L181.8 173.4L182.0 174.4L182.2 175.3M189.9 227.4L190.1 228.4L190.3 229.3L190.5 230.2M195.1 231.4L195.2 230.6L195.4 229.7L195.6 228.8L195.8 227.9L196.0 226.9M202.0 189.3L202.2 188.3L202.4 187.3L202.6 186.4L202.8 185.5L203.0 184.6L203.1 183.7L203.3 182.9L203.5 182.1L203.7 181.4L203.9 180.6M210.1 180.0L210.3 180.7L210.5 181.4L210.7 182.2L210.9 182.9L211.1 183.7L211.2 184.6L211.4 185.4L211.6 186.3L211.8 187.3L212.0 188.2L212.2 189.2M217.9 223.7L218.1 224.7L218.2 225.6L218.4 226.6L218.6 227.5L218.8 228.4L219.0 229.2L219.2 230.1L219.3 230.8M224.3 231.1L224.5 230.4L224.7 229.6L224.9 228.8L225.0 228.0L225.2 227.1L225.4 226.2L225.6 225.3L225.8 224.4L226.0 223.4L226.1 222.5L226.3 221.5M229.6 203.0L229.8 202.1L230.0 201.1L230.2 200.1L230.4 199.2L230.6 198.3L230.7 197.4L230.9 196.5L231.1 195.6L231.3 194.8L231.5 194.0L231.7 193.2L231.9 192.4L232.0 191.7L232.2 191.0M239.8 190.4L239.9 191.0L240.1 191.7L240.3 192.5L240.5 193.2L240.7 194.0L240.9 194.8L241.1 195.6L241.2 196.5L241.4 197.3L241.6 198.2L241.8 199.1L242.0 200.0L242.2 200.9L242.3 201.9L242.5 202.8L242.7 203.8L242.9 204.8M245.1 216.8L245.3 217.7L245.5 218.7L245.7 219.7L245.8 220.6L246.0 221.6L246.2 222.5L246.4 223.4L246.6 224.3L246.8 225.2L246.9 226.1L247.1 226.9L247.3 227.7L247.5 228.5L247.7 229.3L247.9 230.0L248.0 230.7M253.6 231.0L253.7 230.3L253.9 229.6L254.1 228.9L254.3 228.1L254.5 227.4L254.7 226.6L254.9 225.8L255.0 225.0L255.2 224.1L255.4 223.3L255.6 222.4L255.8 221.6L256.0 220.7L256.1 219.8L256.3 218.9L256.5 218.0L256.7 217.1L256.9 216.3L257.1 215.4L257.2 214.5L257.4 213.6L257.6 212.7L257.8 211.8L258.0 210.9L258.2 210.0L258.3 209.2L258.5 208.3L258.7 207.5L258.9 206.6L259.1 205.8L259.3 205.0L259.5 204.2L259.6 203.4L259.8 202.7L260.0 201.9L260.2 201.2L260.4 200.5L260.6 199.8M269.6 199.8L269.8 200.5L269.9 201.2L270.1 201.9L270.3 202.7L270.5 203.4L270.7 204.2L270.9 204.9L271.0 205.7L271.2 206.5L271.4 207.3L271.6 208.2L271.8 209.0L272.0 209.8L272.1 210.7L272.3 211.5L272.5 212.4L272.7 213.2L272.9 214.1L273.1 215.0L273.3 215.8L273.4 216.7L273.6 217.5L273.8 218.4L274.0 219.3L274.2 220.1L274.4 220.9L274.5 221.8L274.7 222.6L274.9 223.4L275.1 224.2L275.3 225.0L275.5 225.8L275.6 226.5L275.8 227.3L276.0 228.0L276.2 228.7L276.4 229.4M283.6 228.4L283.7 227.7L283.9 227.0L284.1 226.3L284.3 225.6L284.5 224.9L284.7 224.1L284.8 223.4L285.0 222.6L285.2 221.9L285.4 221.1L285.6 220.4L285.8 219.6L285.9 218.8L286.1 218.1L286.3 217.3L286.5 216.5L286.7 215.8L286.9 215.0L287.1 214.3L287.2 213.5L287.4 212.8L287.6 212.0L287.8 211.3L288.0 210.6L288.2 209.9L288.3 209.2M299.7 209.2L299.9 209.9L300.1 210.6L300.3 211.3L300.5 212.0L300.7 212.7L300.9 213.4L301.0 214.1L301.2 214.8L301.4 215.6L301.6 216.3L301.8 217.0L302.0 217.8L302.1 218.5L302.3 219.2L302.5 220.0L302.7 220.7L302.9 221.5L303.1 222.2L303.2 222.9L303.4 223.6L303.6 224.3L303.8 225.0L304.0 225.7L304.2 226.4" stroke-width="3.6"/><path d="M33.5 79.2L33.7 79.4L33.9 79.7L34.1 80.1L34.2 80.6M46.6 231.0L46.7 231.5M49.1 231.5L49.3 231.5M60.7 104.6L60.9 103.9L61.1 103.3L61.3 102.8L61.5 102.4L61.7 102.0L61.8 101.8L62.0 101.7M62.2 101.6L62.4 101.7L62.6 101.8L62.8 102.0L62.9 102.3L63.1 102.8L63.3 103.3L63.5 103.8M75.5 231.3L75.6 231.5M78.2 231.5L78.4 231.5M89.4 124.5L89.6 123.8L89.8 123.2L90.0 122.6L90.2 122.2L90.4 121.8L90.5 121.4L90.7 121.2L90.9 121.1M91.3 121.0L91.5 121.1L91.6 121.2L91.8 121.4L92.0 121.8L92.2 122.1L92.4 122.6L92.6 123.2L92.7 123.8M104.2 230.5L104.3 231.5M107.3 231.5L107.5 231.5M118.1 141.6L118.3 140.9L118.5 140.2L118.7 139.7L118.9 139.2L119.1 138.7L119.2 138.4L119.4 138.1L119.6 137.8L119.8 137.7M120.3 137.6L120.5 137.7L120.7 137.8L120.9 138.1L121.1 138.4L121.3 138.8L121.5 139.2L121.6 139.7L121.8 140.3L122.0 140.9M133.0 231.0L133.2 231.5M136.5 231.5L136.7 231.4M146.8 156.2L147.0 155.5L147.2 154.9L147.4 154.3L147.6 153.8L147.8 153.3L147.9 152.9L148.1 152.6L148.3 152.3L148.5 152.1L148.7 151.9L148.9 151.8M149.2 151.8L149.4 151.8L149.6 151.9L149.8 152.1L150.0 152.3L150.2 152.6L150.3 153.0L150.5 153.4L150.7 153.8L150.9 154.4L151.1 154.9L151.3 155.5M161.7 230.5L161.9 231.5M165.6 231.5L165.8 231.5M175.4 169.4L175.5 168.7L175.7 168.0L175.9 167.4L176.1 166.9L176.3 166.4L176.5 165.9L176.7 165.5L176.8 165.1L177.0 164.8L177.2 164.5L177.4 164.3L177.6 164.1L177.8 164.0M178.3 164.0L178.5 164.0L178.7 164.2L178.9 164.3L179.0 164.6L179.2 164.8L179.4 165.2L179.6 165.5L179.8 166.0L180.0 166.4L180.1 166.9L180.3 167.5L180.5 168.1L180.7 168.7M190.5 230.2L190.6 231.1L190.8 231.5M194.9 231.5L195.1 231.4M203.9 180.6L204.1 180.0L204.3 179.3L204.4 178.7L204.6 178.1L204.8 177.6L205.0 177.1L205.2 176.7L205.4 176.2L205.5 175.9L205.7 175.5L205.9 175.2L206.1 175.0L206.3 174.8L206.5 174.6L206.6 174.5M207.4 174.4L207.6 174.5L207.7 174.7L207.9 174.8L208.1 175.0L208.3 175.3L208.5 175.6L208.7 175.9L208.9 176.3L209.0 176.7L209.2 177.2L209.4 177.7L209.6 178.2L209.8 178.8L210.0 179.4L210.1 180.0M219.3 230.8L219.5 231.5M223.9 231.5L224.1 231.5L224.3 231.1M232.2 191.0L232.4 190.3L232.6 189.6L232.8 189.0L233.0 188.4L233.1 187.8L233.3 187.3L233.5 186.8L233.7 186.3L233.9 185.9L234.1 185.5L234.2 185.1L234.4 184.8L234.6 184.5L234.8 184.2L235.0 184.0L235.2 183.8L235.3 183.6L235.5 183.5M236.5 183.4L236.6 183.5L236.8 183.6L237.0 183.8L237.2 184.0L237.4 184.2L237.6 184.5L237.7 184.8L237.9 185.2L238.1 185.5L238.3 186.0L238.5 186.4L238.7 186.9L238.8 187.4L239.0 187.9L239.2 188.5L239.4 189.1L239.6 189.7L239.8 190.4M248.0 230.7L248.2 231.4M253.2 231.5L253.4 231.5L253.6 231.0M260.6 199.8L260.7 199.1L260.9 198.5L261.1 197.8L261.3 197.2L261.5 196.7L261.7 196.1L261.8 195.6L262.0 195.1L262.2 194.6L262.4 194.2L262.6 193.7L262.8 193.4L262.9 193.0L263.1 192.7L263.3 192.4L263.5 192.1L263.7 191.8L263.9 191.6L264.1 191.4L264.2 191.3L264.4 191.2M265.3 191.0L265.5 191.1L265.7 191.2L265.9 191.3L266.1 191.5L266.3 191.7L266.4 191.9L266.6 192.2L266.8 192.4L267.0 192.7L267.2 193.1L267.4 193.5L267.5 193.8L267.7 194.3L267.9 194.7L268.1 195.2L268.3 195.7L268.5 196.2L268.7 196.8L268.8 197.3L269.0 197.9L269.2 198.5L269.4 199.2L269.6 199.8M276.4 229.4L276.6 230.1L276.7 230.7L276.9 231.4M282.5 231.5L282.6 231.5L282.8 231.0L283.0 230.3L283.2 229.7L283.4 229.1L283.6 228.4M288.3 209.2L288.5 208.5L288.7 207.9L288.9 207.2L289.1 206.6L289.3 206.0L289.4 205.4L289.6 204.8L289.8 204.2L290.0 203.7L290.2 203.2L290.4 202.7L290.5 202.2L290.7 201.7L290.9 201.3L291.1 200.9L291.3 200.5L291.5 200.1L291.7 199.8L291.8 199.4L292.0 199.1L292.2 198.9L292.4 198.6L292.6 198.4L292.8 198.2L292.9 198.0L293.1 197.9L293.3 197.8M294.4 197.6L294.6 197.7L294.8 197.8L295.0 197.9L295.1 198.1L295.3 198.3L295.5 198.5L295.7 198.7L295.9 199.0L296.1 199.2L296.3 199.5L296.4 199.9L296.6 200.2L296.8 200.6L297.0 201.0L297.2 201.4L297.4 201.8L297.5 202.3L297.7 202.8L297.9 203.3L298.1 203.8L298.3 204.3L298.5 204.9L298.6 205.5L298.8 206.0L299.0 206.6L299.2 207.3L299.4 207.9L299.6 208.5L299.7 209.2M304.2 226.4L304.3 227.1L304.5 227.7L304.7 228.4L304.9 229.0L305.1 229.6L305.3 230.2L305.5 230.8L305.6 231.4M311.7 231.5L311.9 231.5L312.1 231.0L312.3 230.5L312.4 229.9L312.6 229.3L312.8 228.7L313.0 228.1L313.2 227.5L313.4 226.9L313.5 226.3L313.7 225.6L313.9 225.0L314.1 224.4L314.3 223.7L314.5 223.1L314.7 222.4L314.8 221.7L315.0 221.1L315.2 220.4L315.4 219.8L315.6 219.1L315.8 218.5L315.9 217.8L316.1 217.2L316.3 216.5L316.5 215.9L316.7 215.3L316.9 214.7L317.0 214.1L317.2 213.5L317.4 212.9L317.6 212.3L317.8 211.8L318.0 211.2L318.1 210.7L318.3 210.2L318.5 209.6L318.7 209.2L318.9 208.7L319.1 208.2L319.3 207.8L319.4 207.4L319.6 207.0L319.8 206.6L320.0 206.2L320.2 205.9L320.4 205.5L320.5 205.2L320.7 204.9L320.9 204.7L321.1 204.4L321.3 204.2L321.5 204.0L321.6 203.8L321.8 203.7L322.0 203.5L322.2 203.4M323.5 203.3L323.7 203.4L323.9 203.5L324.0 203.6L324.2 203.7L324.4 203.9L324.6 204.1L324.8 204.3L325.0 204.5L325.1 204.8L325.3 205.0L325.5 205.3L325.7 205.6L325.9 206.0L326.1 206.3L326.2 206.7L326.4 207.1L326.6 207.5L326.8 207.9L327.0 208.3L327.2 208.8L327.3 209.3L327.5 209.7L327.7 210.2L327.9 210.7L328.1 211.3L328.3 211.8L328.5 212.4L328.6 212.9L328.8 213.5L329.0 214.1L329.2 214.7L329.4 215.3L329.6 215.9L329.7 216.5L329.9 217.1L330.1 217.7L330.3 218.3L330.5 219.0L330.7 219.6L330.8 220.2L331.0 220.9L331.2 221.5L331.4 222.1L331.6 222.8L331.8 223.4L331.9 224.0L332.1 224.6L332.3 225.3L332.5 225.9L332.7 226.5L332.9 227.1L333.1 227.7L333.2 228.2L333.4 228.8L333.6 229.4L333.8 229.9L334.0 230.4L334.2 231.0L334.3 231.5M341.0 231.5L341.1 231.5L341.3 231.2L341.5 230.7L341.7 230.2L341.9 229.7L342.1 229.1L342.3 228.6L342.4 228.1L342.6 227.5L342.8 227.0L343.0 226.4L343.2 225.9L343.4 225.3L343.5 224.8L343.7 224.2L343.9 223.6L344.1 223.1L344.3 222.5L344.5 221.9L344.6 221.4L344.8 220.8L345.0 220.3L345.2 219.7L345.4 219.2L345.6 218.7L345.7 218.1L345.9 217.6L346.1 217.1L346.3 216.6L346.5 216.1L346.7 215.6L346.9 215.1L347.0 214.7L347.2 214.2L347.4 213.8L347.6 213.3L347.8 212.9L348.0 212.5L348.1 212.1L348.3 211.8L348.5 211.4L348.7 211.1L348.9 210.8L349.1 210.5L349.2 210.2L349.4 209.9L349.6 209.6L349.8 209.4L350.0 209.2L350.2 209.0L350.3 208.8L350.5 208.6L350.7 208.5L350.9 208.4L351.1 208.3M352.6 208.2L352.7 208.2L352.9 208.3L353.1 208.4L353.3 208.6L353.5 208.7L353.7 208.9L353.8 209.1L354.0 209.3L354.2 209.5L354.4 209.7L354.6 210.0L354.8 210.3L354.9 210.6L355.1 210.9L355.3 211.2L355.5 211.5L355.7 211.9L355.9 212.3L356.1 212.6L356.2 213.0L356.4 213.4L356.6 213.9L356.8 214.3L357.0 214.7L357.2 215.2L357.3 215.7L357.5 216.1L357.7 216.6L357.9 217.1L358.1 217.6L358.3 218.1L358.4 218.6L358.6 219.2L358.8 219.7L359.0 220.2L359.2 220.8L359.4 221.3L359.5 221.8L359.7 222.4L359.9 222.9L360.1 223.5L360.3 224.0L360.5 224.6L360.7 225.1L360.8 225.6L361.0 226.2L361.2 226.7L361.4 227.2L361.6 227.7L361.8 228.3L361.9 228.8L362.1 229.3L362.3 229.8L362.5 230.2L362.7 230.7L362.9 231.2L363.0 231.5M370.4 231.5L370.6 231.4L370.8 230.9L371.0 230.5L371.1 230.0L371.3 229.6L371.5 229.1L371.7 228.7L371.9 228.2L372.1 227.7L372.2 227.2L372.4 226.8L372.6 226.3L372.8 225.8L373.0 225.3L373.2 224.8L373.3 224.3L373.5 223.9L373.7 223.4L373.9 222.9L374.1 222.4L374.3 222.0L374.5 221.5L374.6 221.0L374.8 220.6L375.0 220.2L375.2 219.7L375.4 219.3L375.6 218.9L375.7 218.5L375.9 218.0L376.1 217.7L376.3 217.3L376.5 216.9L376.7 216.5L376.8 216.2L377.0 215.9L377.2 215.5L377.4 215.2L377.6 214.9L377.8 214.6L377.9 214.4L378.1 214.1L378.3 213.9L378.5 213.7L378.7 213.5L378.9 213.3L379.1 213.1L379.2 212.9L379.4 212.8L379.6 212.6L379.8 212.5L380.0 212.4M381.6 212.3L381.8 212.4L382.0 212.5L382.2 212.6L382.4 212.7L382.5 212.8L382.7 213.0L382.9 213.2L383.1 213.3L383.3 213.5L383.5 213.8L383.7 214.0L383.8 214.2L384.0 214.5L384.2 214.8L384.4 215.0L384.6 215.3L384.8 215.7L384.9 216.0L385.1 216.3L385.3 216.7L385.5 217.0L385.7 217.4L385.9 217.8L386.0 218.1L386.2 218.5L386.4 218.9L386.6 219.4L386.8 219.8L387.0 220.2L387.1 220.6L387.3 221.1L387.5 221.5L387.7 222.0L387.9 222.4L388.1 222.9L388.3 223.3L388.4 223.8L388.6 224.3L388.8 224.7L389.0 225.2L389.2 225.7L389.4 226.1L389.5 226.6L389.7 227.1L389.9 227.5L390.1 228.0L390.3 228.4L390.5 228.9L390.6 229.3L390.8 229.8L391.0 230.2L391.2 230.6L391.4 231.0L391.6 231.4M399.7 231.5L399.8 231.5L400.0 231.2L400.2 230.8L400.4 230.5L400.6 230.1L400.8 229.7L400.9 229.2L401.1 228.8L401.3 228.4L401.5 228.0" stroke-width="3.7"/><path d="M46.7 231.5L46.9 231.5L47.1 231.5L47.3 231.5L47.5 231.5L47.7 231.5L47.9 231.5L48.0 231.5L48.2 231.5L48.4 231.5L48.6 231.5L48.8 231.5L49.0 231.5L49.1 231.5M62.0 101.7L62.2 101.6M75.6 231.5L75.8 231.5L76.0 231.5L76.2 231.5L76.4 231.5L76.6 231.5L76.7 231.5L76.9 231.5L77.1 231.5L77.3 231.5L77.5 231.5L77.7 231.5L77.8 231.5L78.0 231.5L78.2 231.5M90.9 121.1L91.1 121.0L91.3 121.0M104.3 231.5L104.5 231.5L104.7 231.5L104.9 231.5L105.1 231.5L105.3 231.5L105.4 231.5L105.6 231.5L105.8 231.5L106.0 231.5L106.2 231.5L106.4 231.5L106.5 231.5L106.7 231.5L106.9 231.5L107.1 231.5L107.3 231.5M119.8 137.7L120.0 137.6L120.2 137.5L120.3 137.6M133.2 231.5L133.4 231.5L133.6 231.5L133.8 231.5L134.0 231.5L134.1 231.5L134.3 231.5L134.5 231.5L134.7 231.5L134.9 231.5L135.1 231.5L135.3 231.5L135.4 231.5L135.6 231.5L135.8 231.5L136.0 231.5L136.2 231.5L136.4 231.5L136.5 231.5M148.9 151.8L149.1 151.8L149.2 151.8M161.9 231.5L162.1 231.5L162.3 231.5L162.5 231.5L162.7 231.5L162.9 231.5L163.0 231.5L163.2 231.5L163.4 231.5L163.6 231.5L163.8 231.5L164.0 231.5L164.1 231.5L164.3 231.5L164.5 231.5L164.7 231.5L164.9 231.5L165.1 231.5L165.2 231.5L165.4 231.5L165.6 231.5M177.8 164.0L177.9 164.0L178.1 163.9L178.3 164.0M190.8 231.5L191.0 231.5L191.2 231.5L191.4 231.5L191.6 231.5L191.7 231.5L191.9 231.5L192.1 231.5L192.3 231.5L192.5 231.5L192.7 231.5L192.8 231.5L193.0 231.5L193.2 231.5L193.4 231.5L193.6 231.5L193.8 231.5L193.9 231.5L194.1 231.5L194.3 231.5L194.5 231.5L194.7 231.5L194.9 231.5M206.6 174.5L206.8 174.4L207.0 174.4L207.2 174.4L207.4 174.4M219.5 231.5L219.7 231.5L219.9 231.5L220.1 231.5L220.3 231.5L220.4 231.5L220.6 231.5L220.8 231.5L221.0 231.5L221.2 231.5L221.4 231.5L221.5 231.5L221.7 231.5L221.9 231.5L222.1 231.5L222.3 231.5L222.5 231.5L222.7 231.5L222.8 231.5L223.0 231.5L223.2 231.5L223.4 231.5L223.6 231.5L223.8 231.5L223.9 231.5M235.5 183.5L235.7 183.4L235.9 183.3L236.1 183.3L236.3 183.4L236.5 183.4M248.2 231.4L248.4 231.5L248.6 231.5L248.8 231.5L249.0 231.5L249.1 231.5L249.3 231.5L249.5 231.5L249.7 231.5L249.9 231.5L250.1 231.5L250.3 231.5L250.4 231.5L250.6 231.5L250.8 231.5L251.0 231.5L251.2 231.5L251.4 231.5L251.5 231.5L251.7 231.5L251.9 231.5L252.1 231.5L252.3 231.5L252.5 231.5L252.6 231.5L252.8 231.5L253.0 231.5L253.2 231.5M264.4 191.2L264.6 191.1L264.8 191.0L265.0 191.0L265.2 191.0L265.3 191.0M276.9 231.4L277.1 231.5L277.3 231.5L277.5 231.5L277.7 231.5L277.9 231.5L278.0 231.5L278.2 231.5L278.4 231.5L278.6 231.5L278.8 231.5L279.0 231.5L279.1 231.5L279.3 231.5L279.5 231.5L279.7 231.5L279.9 231.5L280.1 231.5L280.2 231.5L280.4 231.5L280.6 231.5L280.8 231.5L281.0 231.5L281.2 231.5L281.3 231.5L281.5 231.5L281.7 231.5L281.9 231.5L282.1 231.5L282.3 231.5L282.5 231.5M293.3 197.8L293.5 197.7L293.7 197.6L293.9 197.6L294.0 197.6L294.2 197.6L294.4 197.6M305.6 231.4L305.8 231.5L306.0 231.5L306.2 231.5L306.4 231.5L306.6 231.5L306.7 231.5L306.9 231.5L307.1 231.5L307.3 231.5L307.5 231.5L307.7 231.5L307.8 231.5L308.0 231.5L308.2 231.5L308.4 231.5L308.6 231.5L308.8 231.5L308.9 231.5L309.1 231.5L309.3 231.5L309.5 231.5L309.7 231.5L309.9 231.5L310.1 231.5L310.2 231.5L310.4 231.5L310.6 231.5L310.8 231.5L311.0 231.5L311.2 231.5L311.3 231.5L311.5 231.5L311.7 231.5M322.2 203.4L322.4 203.3L322.6 203.3L322.7 203.2L322.9 203.2L323.1 203.2L323.3 203.3L323.5 203.3M334.3 231.5L334.5 231.5L334.7 231.5L334.9 231.5L335.1 231.5L335.3 231.5L335.4 231.5L335.6 231.5L335.8 231.5L336.0 231.5L336.2 231.5L336.4 231.5L336.5 231.5L336.7 231.5L336.9 231.5L337.1 231.5L337.3 231.5L337.5 231.5L337.7 231.5L337.8 231.5L338.0 231.5L338.2 231.5L338.4 231.5L338.6 231.5L338.8 231.5L338.9 231.5L339.1 231.5L339.3 231.5L339.5 231.5L339.7 231.5L339.9 231.5L340.0 231.5L340.2 231.5L340.4 231.5L340.6 231.5L340.8 231.5L341.0 231.5M351.1 208.3L351.3 208.2L351.5 208.1L351.6 208.1L351.8 208.1L352.0 208.1L352.2 208.1L352.4 208.1L352.6 208.2M363.0 231.5L363.2 231.5L363.4 231.5L363.6 231.5L363.8 231.5L364.0 231.5L364.1 231.5L364.3 231.5L364.5 231.5L364.7 231.5L364.9 231.5L365.1 231.5L365.3 231.5L365.4 231.5L365.6 231.5L365.8 231.5L366.0 231.5L366.2 231.5L366.4 231.5L366.5 231.5L366.7 231.5L366.9 231.5L367.1 231.5L367.3 231.5L367.5 231.5L367.6 231.5L367.8 231.5L368.0 231.5L368.2 231.5L368.4 231.5L368.6 231.5L368.7 231.5L368.9 231.5L369.1 231.5L369.3 231.5L369.5 231.5L369.7 231.5L369.9 231.5L370.0 231.5L370.2 231.5L370.4 231.5M380.0 212.4L380.2 212.4L380.3 212.3L380.5 212.2L380.7 212.2L380.9 212.2L381.1 212.2L381.3 212.2L381.4 212.3L381.6 212.3M391.6 231.4L391.7 231.5L391.9 231.5L392.1 231.5L392.3 231.5L392.5 231.5L392.7 231.5L392.9 231.5L393.0 231.5L393.2 231.5L393.4 231.5L393.6 231.5L393.8 231.5L394.0 231.5L394.1 231.5L394.3 231.5L394.5 231.5L394.7 231.5L394.9 231.5L395.1 231.5L395.2 231.5L395.4 231.5L395.6 231.5L395.8 231.5L396.0 231.5L396.2 231.5L396.3 231.5L396.5 231.5L396.7 231.5L396.9 231.5L397.1 231.5L397.3 231.5L397.5 231.5L397.6 231.5L397.8 231.5L398.0 231.5L398.2 231.5L398.4 231.5L398.6 231.5L398.7 231.5L398.9 231.5L399.1 231.5L399.3 231.5L399.5 231.5L399.7 231.5" stroke-width="3.8"/></g>
<g fill="none" stroke="#aaaa00" stroke-linecap="round" stroke-linejoin="round"><path d="M35.5 21.2L35.7 22.2L35.9 23.2L36.1 24.3L36.3 25.4L36.4 26.6L36.6 27.8L36.8 29.1M39.4 47.9L39.6 49.1L39.8 50.4L39.9 51.6L40.1 52.7L40.3 53.9L40.5 55.0L40.7 56.0M56.5 52.0L56.7 51.1L56.9 50.1L57.1 49.1L57.2 48.1L57.4 47.1L57.6 46.0L57.8 45.0L58.0 44.0M66.6 44.5L66.8 45.5L67.0 46.5L67.2 47.5L67.4 48.5" stroke-width="3.4"/><path d="M34.6 17.3L34.8 17.9L35.0 18.6L35.2 19.4L35.3 20.3L35.5 21.2M37.0 30.3L37.2 31.7L37.4 33.0L37.5 34.3L37.7 35.7L37.9 37.1L38.1 38.5M38.7 42.6L38.8 43.9L39.0 45.3L39.2 46.6M40.7 56.0L40.9 57.0L41.0 58.0L41.2 58.9L41.4 59.8L41.6 60.6L41.8 61.4L42.0 62.1M54.3 62.0L54.5 61.3L54.7 60.6L54.8 59.9L55.0 59.1L55.2 58.3L55.4 57.5L55.6 56.7L55.8 55.8L55.9 54.9L56.1 54.0L56.3 53.0L56.5 52.0M58.0 44.0L58.2 43.0L58.3 42.1L58.5 41.1L58.7 40.2L58.9 39.3L59.1 38.4L59.3 37.5L59.4 36.7L59.6 35.9L59.8 35.2L60.0 34.5M64.4 34.2L64.6 34.9L64.8 35.6L65.0 36.4L65.1 37.2L65.3 38.0L65.5 38.9L65.7 39.8L65.9 40.7L66.1 41.6L66.3 42.6L66.4 43.5L66.6 44.5M67.4 48.5L67.5 49.5L67.7 50.4L67.9 51.4L68.1 52.4L68.3 53.3L68.5 54.2L68.6 55.1L68.8 56.0L69.0 56.8L69.2 57.7L69.4 58.5L69.6 59.2L69.7 60.0L69.9 60.7M85.0 58.4L85.2 57.7L85.4 57.1L85.6 56.4L85.8 55.6L85.9 54.9L86.1 54.2L86.3 53.5L86.5 52.8L86.7 52.0L86.9 51.3L87.0 50.6L87.2 49.9L87.4 49.2M95.0 48.9L95.1 49.6L95.3 50.3L95.5 51.0L95.7 51.7L95.9 52.4L96.1 53.1L96.2 53.8L96.4 54.5L96.6 55.2L96.8 55.9L97.0 56.6" stroke-width="3.7"/><path d="M33.5 15.1L33.7 15.3L33.9 15.5L34.1 15.8L34.2 16.2L34.4 16.7L34.6 17.3M42.0 62.1L42.1 62.8L42.3 63.4L42.5 64.0L42.7 64.5L42.9 65.0L43.1 65.5L43.3 65.9L43.4 66.3L43.6 66.7L43.8 67.0L44.0 67.2L44.2 67.5L44.4 67.7L44.5 67.9L44.7 68.0L44.9 68.2L45.1 68.3L45.3 68.4M50.6 68.4L50.8 68.4L51.0 68.3L51.2 68.1L51.3 68.0L51.5 67.9L51.7 67.7L51.9 67.5L52.1 67.2L52.3 67.0L52.5 66.7L52.6 66.4L52.8 66.0L53.0 65.6L53.2 65.2L53.4 64.8L53.6 64.3L53.7 63.8L53.9 63.2L54.1 62.6L54.3 62.0M60.0 34.5L60.2 33.8L60.4 33.2L60.5 32.6L60.7 32.1L60.9 31.7L61.1 31.3L61.3 30.9L61.5 30.6L61.7 30.4L61.8 30.3M62.4 30.1L62.6 30.2L62.8 30.4L62.9 30.6L63.1 30.8L63.3 31.2L63.5 31.5L63.7 32.0L63.9 32.5L64.0 33.0L64.2 33.6L64.4 34.2M69.9 60.7L70.1 61.3L70.3 62.0L70.5 62.6L70.7 63.2L70.9 63.7L71.0 64.2L71.2 64.7L71.4 65.1L71.6 65.5L71.8 65.9L72.0 66.3L72.1 66.6L72.3 66.9L72.5 67.1L72.7 67.4L72.9 67.6L73.1 67.7L73.2 67.9L73.4 68.1L73.6 68.2L73.8 68.3L74.0 68.4M79.9 68.4L80.1 68.4L80.2 68.3L80.4 68.2L80.6 68.0L80.8 67.9L81.0 67.7L81.2 67.6L81.3 67.4L81.5 67.1L81.7 66.9L81.9 66.6L82.1 66.4L82.3 66.0L82.4 65.7L82.6 65.3L82.8 64.9L83.0 64.5L83.2 64.1L83.4 63.6L83.5 63.1L83.7 62.6L83.9 62.1L84.1 61.5L84.3 60.9L84.5 60.3L84.7 59.7L84.8 59.1L85.0 58.4M87.4 49.2L87.6 48.5L87.8 47.8L88.0 47.2L88.1 46.6L88.3 46.0L88.5 45.4L88.7 44.8L88.9 44.3L89.1 43.8L89.3 43.4L89.4 43.0L89.6 42.6L89.8 42.2L90.0 41.9L90.2 41.7L90.4 41.4L90.5 41.3L90.7 41.1M91.5 41.0L91.6 41.1L91.8 41.2L92.0 41.4L92.2 41.6L92.4 41.8L92.6 42.1L92.7 42.5L92.9 42.8L93.1 43.2L93.3 43.7L93.5 44.2L93.7 44.7L93.9 45.2L94.0 45.8L94.2 46.4L94.4 47.0L94.6 47.6L94.8 48.2L95.0 48.9M97.0 56.6L97.2 57.3L97.3 58.0L97.5 58.6L97.7 59.3L97.9 59.9L98.1 60.5L98.3 61.1L98.5 61.6L98.6 62.2L98.8 62.7L99.0 63.2L99.2 63.7L99.4 64.1L99.6 64.5L99.7 64.9L99.9 65.3L100.1 65.7L100.3 66.0L100.5 66.3L100.7 66.6L100.8 66.8L101.0 67.1L101.2 67.3L101.4 67.5L101.6 67.7L101.8 67.8L101.9 68.0L102.1 68.1L102.3 68.2L102.5 68.3M109.3 68.4L109.5 68.3L109.7 68.2L109.9 68.1L110.0 67.9L110.2 67.8L110.4 67.7L110.6 67.5L110.8 67.3L111.0 67.1L111.1 66.9L111.3 66.7L111.5 66.4L111.7 66.1L111.9 65.9L112.1 65.5L112.3 65.2L112.4 64.9L112.6 64.5L112.8 64.1L113.0 63.7L113.2 63.3L113.4 62.9L113.5 62.5L113.7 62.0L113.9 61.5L114.1 61.1L114.3 60.6L114.5 60.1L114.6 59.6L114.8 59.0L115.0 58.5L115.2 58.0L115.4 57.5L115.6 57.0L115.7 56.4L115.9 55.9L116.1 55.4L116.3 54.9L116.5 54.4L116.7 53.9L116.9 53.5L117.0 53.0L117.2 52.6L117.4 52.1L117.6 51.7L117.8 51.3L118.0 51.0L118.1 50.6L118.3 50.3L118.5 50.0L118.7 49.8L118.9 49.6L119.1 49.3L119.2 49.2L119.4 49.0L119.6 48.9M120.5 48.8L120.7 48.9L120.9 49.0L121.1 49.1L121.3 49.3L121.5 49.5L121.6 49.7L121.8 50.0L122.0 50.3L122.2 50.6L122.4 50.9L122.6 51.3L122.7 51.6L122.9 52.0L123.1 52.4L123.3 52.9L123.5 53.3L123.7 53.8L123.8 54.2L124.0 54.7L124.2 55.2L124.4 55.7L124.6 56.2L124.8 56.7L124.9 57.3L125.1 57.8L125.3 58.3L125.5 58.8L125.7 59.3L125.9 59.8L126.1 60.3L126.2 60.8L126.4 61.2L126.6 61.7L126.8 62.2L127.0 62.6L127.2 63.0L127.3 63.4L127.5 63.8L127.7 64.2L127.9 64.6L128.1 64.9L128.3 65.3L128.4 65.6L128.6 65.9L128.8 66.1L129.0 66.4L129.2 66.6L129.4 66.9L129.5 67.1L129.7 67.3L129.9 67.5L130.1 67.6L130.3 67.8L130.5 67.9L130.7 68.0L130.8 68.1L131.0 68.2L131.2 68.3M138.7 68.3L138.9 68.2L139.1 68.1L139.3 68.0L139.5 67.9L139.7 67.8L139.9 67.6L140.0 67.5L140.2 67.3L140.4 67.1L140.6 67.0L140.8 66.8L141.0 66.5L141.1 66.3L141.3 66.1L141.5 65.8L141.7 65.6L141.9 65.3L142.1 65.0L142.2 64.7L142.4 64.4L142.6 64.0L142.8 63.7L143.0 63.4L143.2 63.0L143.3 62.7L143.5 62.3L143.7 61.9L143.9 61.6L144.1 61.2L144.3 60.8L144.5 60.4L144.6 60.1L144.8 59.7L145.0 59.3L145.2 59.0L145.4 58.6L145.6 58.3L145.7 57.9L145.9 57.6L146.1 57.3L146.3 56.9L146.5 56.6L146.7 56.4L146.8 56.1L147.0 55.8L147.2 55.6L147.4 55.4L147.6 55.2L147.8 55.0L147.9 54.9L148.1 54.7L148.3 54.6L148.5 54.5M149.8 54.5L150.0 54.6L150.2 54.7L150.3 54.8L150.5 55.0L150.7 55.2L150.9 55.3L151.1 55.6L151.3 55.8L151.4 56.0L151.6 56.3L151.8 56.6L152.0 56.9L152.2 57.2L152.4 57.5L152.5 57.8L152.7 58.2L152.9 58.5L153.1 58.8L153.3 59.2L153.5 59.6L153.7 59.9L153.8 60.3L154.0 60.7L154.2 61.0L154.4 61.4L154.6 61.8L154.8 62.1L154.9 62.5L155.1 62.8L155.3 63.2L155.5 63.5L155.7 63.8L155.9 64.2L156.0 64.5L156.2 64.8L156.4 65.1L156.6 65.3L156.8 65.6L157.0 65.9L157.1 66.1L157.3 66.3L157.5 66.6L157.7 66.8L157.9 67.0L158.1 67.1L158.3 67.3L158.4 67.5L158.6 67.6L158.8 67.8L159.0 67.9L159.2 68.0L159.4 68.1L159.5 68.2M168.2 68.2L168.4 68.2L168.6 68.1L168.7 68.0L168.9 67.9L169.1 67.8L169.3 67.7L169.5 67.5L169.7 67.4L169.8 67.2L170.0 67.1L170.2 66.9L170.4 66.7L170.6 66.5L170.8 66.3L170.9 66.1L171.1 65.9L171.3 65.7L171.5 65.5L171.7 65.2L171.9 65.0L172.1 64.7L172.2 64.5L172.4 64.2L172.6 64.0L172.8 63.7L173.0 63.4L173.2 63.2L173.3 62.9L173.5 62.6L173.7 62.4L173.9 62.1L174.1 61.8L174.3 61.6L174.4 61.3L174.6 61.1L174.8 60.8L175.0 60.6L175.2 60.4L175.4 60.1L175.5 59.9L175.7 59.7L175.9 59.5L176.1 59.4L176.3 59.2L176.5 59.1L176.7 58.9L176.8 58.8L177.0 58.7L177.2 58.6M178.9 58.5L179.0 58.6L179.2 58.7L179.4 58.8L179.6 58.9L179.8 59.0L180.0 59.2L180.1 59.3L180.3 59.5L180.5 59.7L180.7 59.9L180.9 60.1L181.1 60.3L181.3 60.5L181.4 60.8L181.6 61.0L181.8 61.2L182.0 61.5L182.2 61.8L182.4 62.0L182.5 62.3L182.7 62.5L182.9 62.8L183.1 63.1L183.3 63.3L183.5 63.6L183.6 63.9L183.8 64.1L184.0 64.4L184.2 64.6L184.4 64.9L184.6 65.1L184.7 65.3L184.9 65.6L185.1 65.8L185.3 66.0L185.5 66.2L185.7 66.4L185.9 66.6L186.0 66.8L186.2 66.9L186.4 67.1L186.6 67.2L186.8 67.4L187.0 67.5L187.1 67.7L187.3 67.8L187.5 67.9L187.7 68.0L187.9 68.1L188.1 68.2M197.8 68.2L198.0 68.1L198.2 68.0L198.4 67.9L198.5 67.8L198.7 67.7L198.9 67.6L199.1 67.5L199.3 67.3L199.5 67.2L199.7 67.1L199.8 66.9L200.0 66.8L200.2 66.6L200.4 66.5L200.6 66.3L200.8 66.1L200.9 65.9L201.1 65.8L201.3 65.6L201.5 65.4L201.7 65.2L201.9 65.0L202.0 64.8L202.2 64.6L202.4 64.4L202.6 64.2L202.8 64.0L203.0 63.9L203.1 63.7L203.3 63.5L203.5 63.3L203.7 63.1L203.9 62.9L204.1 62.8L204.3 62.6L204.4 62.5L204.6 62.3L204.8 62.2L205.0 62.1L205.2 61.9L205.4 61.8L205.5 61.7L205.7 61.6M208.3 61.5L208.5 61.6L208.7 61.7L208.9 61.8L209.0 61.9L209.2 62.0L209.4 62.2L209.6 62.3L209.8 62.4L210.0 62.6L210.1 62.8L210.3 62.9L210.5 63.1L210.7 63.3L210.9 63.4L211.1 63.6L211.2 63.8L211.4 64.0L211.6 64.2L211.8 64.4L212.0 64.6L212.2 64.8L212.3 64.9L212.5 65.1L212.7 65.3L212.9 65.5L213.1 65.7L213.3 65.9L213.5 66.0L213.6 66.2L213.8 66.4L214.0 66.5L214.2 66.7L214.4 66.8L214.6 67.0L214.7 67.1L214.9 67.3L215.1 67.4L215.3 67.5L215.5 67.6L215.7 67.7L215.8 67.8L216.0 67.9L216.2 68.0M227.6 68.0L227.8 67.9L228.0 67.9L228.2 67.8L228.4 67.7L228.5 67.6L228.7 67.5L228.9 67.4L229.1 67.3L229.3 67.2L229.5 67.0L229.6 66.9L229.8 66.8L230.0 66.7L230.2 66.5L230.4 66.4L230.6 66.3L230.7 66.1L230.9 66.0L231.1 65.8L231.3 65.7L231.5 65.6L231.7 65.4L231.9 65.3L232.0 65.1L232.2 65.0L232.4 64.9L232.6 64.8L232.8 64.6L233.0 64.5L233.1 64.4L233.3 64.3L233.5 64.2L233.7 64.1L233.9 64.0L234.1 63.9L234.2 63.8M237.7 63.7L237.9 63.8L238.1 63.9L238.3 64.0L238.5 64.1L238.7 64.2L238.8 64.3L239.0 64.4L239.2 64.5L239.4 64.6L239.6 64.7L239.8 64.9L239.9 65.0L240.1 65.1L240.3 65.3L240.5 65.4L240.7 65.5L240.9 65.7L241.1 65.8L241.2 65.9L241.4 66.1L241.6 66.2L241.8 66.3L242.0 66.5L242.2 66.6L242.3 66.7L242.5 66.9L242.7 67.0L242.9 67.1L243.1 67.2L243.3 67.3L243.4 67.4L243.6 67.5L243.8 67.6L244.0 67.7L244.2 67.8L244.4 67.9M257.8 67.8L258.0 67.7L258.2 67.6L258.3 67.5L258.5 67.5L258.7 67.4L258.9 67.3L259.1 67.2L259.3 67.1L259.5 67.0L259.6 66.9L259.8 66.8L260.0 66.7L260.2 66.6L260.4 66.5L260.6 66.4L260.7 66.3L260.9 66.2L261.1 66.1L261.3 66.0L261.5 65.9L261.7 65.8L261.8 65.7L262.0 65.6L262.2 65.6M267.7 65.5L267.9 65.6L268.1 65.6L268.3 65.7L268.5 65.8L268.7 65.9L268.8 66.0L269.0 66.1L269.2 66.2L269.4 66.3L269.6 66.4L269.8 66.5L269.9 66.6L270.1 66.7L270.3 66.8L270.5 66.9L270.7 67.0L270.9 67.1L271.0 67.2L271.2 67.2L271.4 67.3L271.6 67.4L271.8 67.5L272.0 67.6L272.1 67.7" stroke-width="4.0"/><path d="M45.3 68.4L45.5 68.5L45.6 68.5L45.8 68.6L46.0 68.6L46.2 68.7L46.4 68.7L46.6 68.7L46.7 68.7L46.9 68.7L47.1 68.7L47.3 68.7L47.5 68.7L47.7 68.7L47.9 68.7L48.0 68.7L48.2 68.7L48.4 68.7L48.6 68.7L48.8 68.7L49.0 68.7L49.1 68.7L49.3 68.7L49.5 68.7L49.7 68.7L49.9 68.6L50.1 68.6L50.2 68.6L50.4 68.5L50.6 68.4M61.8 30.3L62.0 30.2L62.2 30.1L62.4 30.1M74.0 68.4L74.2 68.5L74.3 68.5L74.5 68.6L74.7 68.6L74.9 68.6L75.1 68.7L75.3 68.7L75.5 68.7L75.6 68.7L75.8 68.7L76.0 68.7L76.2 68.7L76.4 68.7L76.6 68.7L76.7 68.7L76.9 68.7L77.1 68.7L77.3 68.7L77.5 68.7L77.7 68.7L77.8 68.7L78.0 68.7L78.2 68.7L78.4 68.7L78.6 68.7L78.8 68.7L78.9 68.7L79.1 68.6L79.3 68.6L79.5 68.5L79.7 68.5L79.9 68.4M90.7 41.1L90.9 41.0L91.1 41.0L91.3 41.0L91.5 41.0M102.5 68.3L102.7 68.4L102.9 68.4L103.1 68.5L103.2 68.6L103.4 68.6L103.6 68.6L103.8 68.7L104.0 68.7L104.2 68.7L104.3 68.7L104.5 68.7L104.7 68.7L104.9 68.7L105.1 68.7L105.3 68.7L105.4 68.7L105.6 68.7L105.8 68.7L106.0 68.7L106.2 68.7L106.4 68.7L106.5 68.7L106.7 68.7L106.9 68.7L107.1 68.7L107.3 68.7L107.5 68.7L107.7 68.7L107.8 68.7L108.0 68.7L108.2 68.6L108.4 68.6L108.6 68.6L108.8 68.5L108.9 68.5L109.1 68.4L109.3 68.4M119.6 48.9L119.8 48.8L120.0 48.8L120.2 48.8L120.3 48.8L120.5 48.8M131.2 68.3L131.4 68.4L131.6 68.4L131.8 68.5L131.9 68.5L132.1 68.6L132.3 68.6L132.5 68.6L132.7 68.7L132.9 68.7L133.0 68.7L133.2 68.7L133.4 68.7L133.6 68.7L133.8 68.7L134.0 68.7L134.1 68.7L134.3 68.7L134.5 68.7L134.7 68.7L134.9 68.7L135.1 68.7L135.3 68.7L135.4 68.7L135.6 68.7L135.8 68.7L136.0 68.7L136.2 68.7L136.4 68.7L136.5 68.7L136.7 68.7L136.9 68.7L137.1 68.7L137.3 68.7L137.5 68.6L137.6 68.6L137.8 68.6L138.0 68.5L138.2 68.5L138.4 68.4L138.6 68.4L138.7 68.3M148.5 54.5L148.7 54.4L148.9 54.4L149.1 54.4L149.2 54.4L149.4 54.4L149.6 54.4L149.8 54.5M159.5 68.2L159.7 68.3L159.9 68.3L160.1 68.4L160.3 68.5L160.5 68.5L160.6 68.5L160.8 68.6L161.0 68.6L161.2 68.6L161.4 68.7L161.6 68.7L161.7 68.7L161.9 68.7L162.1 68.7L162.3 68.7L162.5 68.7L162.7 68.7L162.9 68.7L163.0 68.7L163.2 68.7L163.4 68.7L163.6 68.7L163.8 68.7L164.0 68.7L164.1 68.7L164.3 68.7L164.5 68.7L164.7 68.7L164.9 68.7L165.1 68.7L165.2 68.7L165.4 68.7L165.6 68.7L165.8 68.7L166.0 68.7L166.2 68.7L166.3 68.7L166.5 68.6L166.7 68.6L166.9 68.6L167.1 68.6L167.3 68.5L167.5 68.5L167.6 68.4L167.8 68.4L168.0 68.3L168.2 68.2M177.2 58.6L177.4 58.5L177.6 58.5L177.8 58.4L177.9 58.4L178.1 58.4L178.3 58.4L178.5 58.4L178.7 58.5L178.9 58.5M188.1 68.2L188.2 68.2L188.4 68.3L188.6 68.4L188.8 68.4L189.0 68.5L189.2 68.5L189.3 68.5L189.5 68.6L189.7 68.6L189.9 68.6L190.1 68.6L190.3 68.7L190.5 68.7L190.6 68.7L190.8 68.7L191.0 68.7L191.2 68.7L191.4 68.7L191.6 68.7L191.7 68.7L191.9 68.7L192.1 68.7L192.3 68.7L192.5 68.7L192.7 68.7L192.8 68.7L193.0 68.7L193.2 68.7L193.4 68.7L193.6 68.7L193.8 68.7L193.9 68.7L194.1 68.7L194.3 68.7L194.5 68.7L194.7 68.7L194.9 68.7L195.1 68.7L195.2 68.7L195.4 68.7L195.6 68.7L195.8 68.6L196.0 68.6L196.2 68.6L196.3 68.6L196.5 68.5L196.7 68.5L196.9 68.5L197.1 68.4L197.3 68.4L197.4 68.3L197.6 68.2L197.8 68.2M205.7 61.6L205.9 61.5L206.1 61.5L206.3 61.4L206.5 61.4L206.6 61.3L206.8 61.3L207.0 61.3L207.2 61.3L207.4 61.3L207.6 61.3L207.7 61.4L207.9 61.4L208.1 61.5L208.3 61.5M216.2 68.0L216.4 68.1L216.6 68.2L216.8 68.2L216.9 68.3L217.1 68.3L217.3 68.4L217.5 68.4L217.7 68.5L217.9 68.5L218.1 68.6L218.2 68.6L218.4 68.6L218.6 68.6L218.8 68.6L219.0 68.7L219.2 68.7L219.3 68.7L219.5 68.7L219.7 68.7L219.9 68.7L220.1 68.7L220.3 68.7L220.4 68.7L220.6 68.7L220.8 68.7L221.0 68.7L221.2 68.7L221.4 68.7L221.5 68.7L221.7 68.7L221.9 68.7L222.1 68.7L222.3 68.7L222.5 68.7L222.7 68.7L222.8 68.7L223.0 68.7L223.2 68.7L223.4 68.7L223.6 68.7L223.8 68.7L223.9 68.7L224.1 68.7L224.3 68.7L224.5 68.7L224.7 68.7L224.9 68.7L225.0 68.6L225.2 68.6L225.4 68.6L225.6 68.6L225.8 68.5L226.0 68.5L226.1 68.5L226.3 68.4L226.5 68.4L226.7 68.3L226.9 68.3L227.1 68.2L227.3 68.2L227.4 68.1L227.6 68.0M234.2 63.8L234.4 63.7L234.6 63.6L234.8 63.6L235.0 63.5L235.2 63.5L235.3 63.4L235.5 63.4L235.7 63.4L235.9 63.4L236.1 63.4L236.3 63.4L236.5 63.4L236.6 63.4L236.8 63.4L237.0 63.5L237.2 63.5L237.4 63.6L237.6 63.6L237.7 63.7M244.4 67.9L244.5 68.0L244.7 68.0L244.9 68.1L245.1 68.2L245.3 68.2L245.5 68.3L245.7 68.3L245.8 68.4L246.0 68.4L246.2 68.5L246.4 68.5L246.6 68.5L246.8 68.6L246.9 68.6L247.1 68.6L247.3 68.6L247.5 68.6L247.7 68.7L247.9 68.7L248.0 68.7L248.2 68.7L248.4 68.7L248.6 68.7L248.8 68.7L249.0 68.7L249.1 68.7L249.3 68.7L249.5 68.7L249.7 68.7L249.9 68.7L250.1 68.7L250.3 68.7L250.4 68.7L250.6 68.7L250.8 68.7L251.0 68.7L251.2 68.7L251.4 68.7L251.5 68.7L251.7 68.7L251.9 68.7L252.1 68.7L252.3 68.7L252.5 68.7L252.6 68.7L252.8 68.7L253.0 68.7L253.2 68.7L253.4 68.7L253.6 68.7L253.7 68.7L253.9 68.7L254.1 68.7L254.3 68.6L254.5 68.6L254.7 68.6L254.9 68.6L255.0 68.6L255.2 68.5L255.4 68.5L255.6 68.5L255.8 68.4L256.0 68.4L256.1 68.3L256.3 68.3L256.5 68.2L256.7 68.2L256.9 68.1L257.1 68.1L257.2 68.0L257.4 67.9L257.6 67.9L257.8 67.8M262.2 65.6L262.4 65.5L262.6 65.4L262.8 65.3L262.9 65.3L263.1 65.2L263.3 65.1L263.5 65.1L263.7 65.0L263.9 65.0L264.1 65.0L264.2 64.9L264.4 64.9L264.6 64.9L264.8 64.9L265.0 64.9L265.2 64.9L265.3 64.9L265.5 64.9L265.7 64.9L265.9 64.9L266.1 65.0L266.3 65.0L266.4 65.1L266.6 65.1L266.8 65.1L267.0 65.2L267.2 65.3L267.4 65.3L267.5 65.4L267.7 65.5M272.1 67.7L272.3 67.8L272.5 67.8L272.7 67.9L272.9 68.0L273.1 68.0L273.3 68.1L273.4 68.1L273.6 68.2L273.8 68.3L274.0 68.3L274.2 68.3L274.4 68.4L274.5 68.4L274.7 68.5L274.9 68.5L275.1 68.5L275.3 68.6L275.5 68.6L275.6 68.6L275.8 68.6L276.0 68.6L276.2 68.6L276.4 68.7L276.6 68.7L276.7 68.7L276.9 68.7L277.1 68.7L277.3 68.7L277.5 68.7L277.7 68.7L277.9 68.7L278.0 68.7L278.2 68.7L278.4 68.7L278.6 68.7L278.8 68.7L279.0 68.7L279.1 68.7L279.3 68.7L279.5 68.7L279.7 68.7L279.9 68.7L280.1 68.7L280.2 68.7L280.4 68.7L280.6 68.7L280.8 68.7L281.0 68.7L281.2 68.7L281.3 68.7L281.5 68.7L281.7 68.7L281.9 68.7L282.1 68.7L282.3 68.7L282.5 68.7L282.6 68.7L282.8 68.7L283.0 68.7L283.2 68.7L283.4 68.7L283.6 68.6L283.7 68.6L283.9 68.6L284.1 68.6L284.3 68.6L284.5 68.5L284.7 68.5L284.8 68.5L285.0 68.5L285.2 68.4L285.4 68.4L285.6 68.4L285.8 68.3L285.9 68.3L286.1 68.2L286.3 68.2L286.5 68.1L286.7 68.1L286.9 68.0L287.1 68.0L287.2 67.9L287.4 67.8L287.6 67.8L287.8 67.7L288.0 67.6L288.2 67.6L288.3 67.5L288.5 67.4L288.7 67.4L288.9 67.3L289.1 67.2L289.3 67.2L289.4 67.1L289.6 67.0L289.8 66.9L290.0 66.9L290.2 66.8L290.4 66.7L290.5 66.7L290.7 66.6L290.9 66.5L291.1 66.5L291.3 66.4L291.5 66.4L291.7 66.3L291.8 66.3L292.0 66.2L292.2 66.2L292.4 66.1L292.6 66.1L292.8 66.1L292.9 66.0L293.1 66.0L293.3 66.0L293.5 66.0L293.7 66.0L293.9 66.0L294.0 66.0L294.2 66.0L294.4 66.0L294.6 66.0L294.8 66.0L295.0 66.0L295.1 66.0L295.3 66.1L295.5 66.1L295.7 66.1L295.9 66.2L296.1 66.2L296.3 66.3L296.4 66.3L296.6 66.4L296.8 66.4L297.0 66.5L297.2 66.5L297.4 66.6L297.5 66.7L297.7 66.7L297.9 66.8L298.1 66.9L298.3 66.9L298.5 67.0L298.6 67.1L298.8 67.1L299.0 67.2L299.2 67.3L299.4 67.4L299.6 67.4L299.7 67.5L299.9 67.6L300.1 67.6L300.3 67.7L300.5 67.8L300.7 67.8L300.9 67.9L301.0 67.9L301.2 68.0L301.4 68.1L301.6 68.1L301.8 68.2L302.0 68.2L302.1 68.2L302.3 68.3L302.5 68.3L302.7 68.4L302.9 68.4L303.1 68.4L303.2 68.5L303.4 68.5L303.6 68.5L303.8 68.5L304.0 68.6L304.2 68.6L304.3 68.6L304.5 68.6L304.7 68.6L304.9 68.7L305.1 68.7L305.3 68.7L305.5 68.7L305.6 68.7L305.8 68.7L306.0 68.7L306.2 68.7L306.4 68.7L306.6 68.7L306.7 68.7L306.9 68.7L307.1 68.7L307.3 68.7L307.5 68.7L307.7 68.7L307.8 68.7L308.0 68.7L308.2 68.7L308.4 68.7L308.6 68.7L308.8 68.7L308.9 68.7L309.1 68.7L309.3 68.7L309.5 68.7L309.7 68.7L309.9 68.7L310.1 68.7L310.2 68.7L310.4 68.7L310.6 68.7L310.8 68.7L311.0 68.7L311.2 68.7L311.3 68.7L311.5 68.7L311.7 68.7L311.9 68.7L312.1 68.7L312.3 68.7L312.4 68.7L312.6 68.7L312.8 68.6L313.0 68.6L313.2 68.6L313.4 68.6L313.5 68.6L313.7 68.6L313.9 68.5L314.1 68.5L314.3 68.5L314.5 68.5L314.7 68.4L314.8 68.4L315.0 68.4L315.2 68.3L315.4 68.3L315.6 68.3L315.8 68.2L315.9 68.2L316.1 68.2L316.3 68.1L316.5 68.1L316.7 68.0L316.9 68.0L317.0 67.9L317.2 67.9L317.4 67.8L317.6 67.8L317.8 67.7L318.0 67.7L318.1 67.6L318.3 67.6L318.5 67.5L318.7 67.5L318.9 67.4L319.1 67.4L319.3 67.3L319.4 67.3L319.6 67.2L319.8 67.2L320.0 67.1L320.2 67.1L320.4 67.0L320.5 67.0L320.7 67.0L320.9 66.9L321.1 66.9L321.3 66.9L321.5 66.8L321.6 66.8L321.8 66.8L322.0 66.8L322.2 66.8L322.4 66.8L322.6 66.7L322.7 66.7L322.9 66.7L323.1 66.7L323.3 66.7L323.5 66.7L323.7 66.8L323.9 66.8L324.0 66.8L324.2 66.8L324.4 66.8L324.6 66.8L324.8 66.9L325.0 66.9L325.1 66.9L325.3 67.0L325.5 67.0L325.7 67.0L325.9 67.1L326.1 67.1L326.2 67.2L326.4 67.2L326.6 67.3L326.8 67.3L327.0 67.4L327.2 67.4L327.3 67.5L327.5 67.5L327.7 67.6L327.9 67.6L328.1 67.7L328.3 67.7L328.5 67.8L328.6 67.8L328.8 67.9L329.0 67.9L329.2 68.0L329.4 68.0L329.6 68.1L329.7 68.1L329.9 68.1L330.1 68.2L330.3 68.2L330.5 68.3L330.7 68.3L330.8 68.3L331.0 68.4L331.2 68.4L331.4 68.4L331.6 68.5L331.8 68.5L331.9 68.5L332.1 68.5L332.3 68.6L332.5 68.6L332.7 68.6L332.9 68.6L333.1 68.6L333.2 68.6L333.4 68.6L333.6 68.7L333.8 68.7L334.0 68.7L334.2 68.7L334.3 68.7L334.5 68.7L334.7 68.7L334.9 68.7L335.1 68.7L335.3 68.7L335.4 68.7L335.6 68.7L335.8 68.7L336.0 68.7L336.2 68.7L336.4 68.7L336.5 68.7L336.7 68.7L336.9 68.7L337.1 68.7L337.3 68.7L337.5 68.7L337.7 68.7L337.8 68.7L338.0 68.7L338.2 68.7L338.4 68.7L338.6 68.7L338.8 68.7L338.9 68.7L339.1 68.7L339.3 68.7L339.5 68.7L339.7 68.7L339.9 68.7L340.0 68.7L340.2 68.7L340.4 68.7L340.6 68.7L340.8 68.7L341.0 68.7L341.1 68.7L341.3 68.7L341.5 68.7L341.7 68.7L341.9 68.7L342.1 68.7L342.3 68.6L342.4 68.6L342.6 68.6L342.8 68.6L343.0 68.6L343.2 68.6L343.4 68.6L343.5 68.5L343.7 68.5L343.9 68.5L344.1 68.5L344.3 68.4L344.5 68.4L344.6 68.4L344.8 68.4L345.0 68.3L345.2 68.3L345.4 68.3L345.6 68.2L345.7 68.2L345.9 68.2L346.1 68.1L346.3 68.1L346.5 68.1L346.7 68.0L346.9 68.0L347.0 67.9L347.2 67.9L347.4 67.9L347.6 67.8L347.8 67.8L348.0 67.8L348.1 67.7L348.3 67.7L348.5 67.7L348.7 67.6L348.9 67.6L349.1 67.6L349.2 67.5L349.4 67.5L349.6 67.5L349.8 67.4L350.0 67.4L350.2 67.4L350.3 67.4L350.5 67.4L350.7 67.3L350.9 67.3L351.1 67.3L351.3 67.3L351.5 67.3L351.6 67.3L351.8 67.3L352.0 67.3L352.2 67.3L352.4 67.3L352.6 67.3L352.7 67.3L352.9 67.3L353.1 67.3L353.3 67.3L353.5 67.4L353.7 67.4L353.8 67.4L354.0 67.4L354.2 67.5L354.4 67.5L354.6 67.5L354.8 67.5L354.9 67.6L355.1 67.6L355.3 67.6L355.5 67.7L355.7 67.7L355.9 67.7L356.1 67.8L356.2 67.8L356.4 67.8L356.6 67.9L356.8 67.9L357.0 67.9L357.2 68.0L357.3 68.0L357.5 68.1L357.7 68.1L357.9 68.1L358.1 68.2L358.3 68.2L358.4 68.2L358.6 68.3L358.8 68.3L359.0 68.3L359.2 68.3L359.4 68.4L359.5 68.4L359.7 68.4L359.9 68.5L360.1 68.5L360.3 68.5L360.5 68.5L360.7 68.5L360.8 68.6L361.0 68.6L361.2 68.6L361.4 68.6L361.6 68.6L361.8 68.6L361.9 68.6L362.1 68.7L362.3 68.7L362.5 68.7L362.7 68.7L362.9 68.7L363.0 68.7L363.2 68.7L363.4 68.7L363.6 68.7L363.8 68.7L364.0 68.7L364.1 68.7L364.3 68.7L364.5 68.7L364.7 68.7L364.9 68.7L365.1 68.7L365.3 68.7L365.4 68.7L365.6 68.7L365.8 68.7L366.0 68.7L366.2 68.7L366.4 68.7L366.5 68.7L366.7 68.7L366.9 68.7L367.1 68.7L367.3 68.7L367.5 68.7L367.6 68.7L367.8 68.7L368.0 68.7L368.2 68.7L368.4 68.7L368.6 68.7L368.7 68.7L368.9 68.7L369.1 68.7L369.3 68.7L369.5 68.7L369.7 68.7L369.9 68.7L370.0 68.7L370.2 68.7L370.4 68.7L370.6 68.7L370.8 68.7L371.0 68.7L371.1 68.7L371.3 68.7L371.5 68.6L371.7 68.6L371.9 68.6L372.1 68.6L372.2 68.6L372.4 68.6L372.6 68.6L372.8 68.6L373.0 68.5L373.2 68.5L373.3 68.5L373.5 68.5L373.7 68.5L373.9 68.4L374.1 68.4L374.3 68.4L374.5 68.4L374.6 68.4L374.8 68.3L375.0 68.3L375.2 68.3L375.4 68.3L375.6 68.2L375.7 68.2L375.9 68.2L376.1 68.1L376.3 68.1L376.5 68.1L376.7 68.1L376.8 68.0L377.0 68.0L377.2 68.0L377.4 68.0L377.6 67.9L377.8 67.9L377.9 67.9L378.1 67.9L378.3 67.9L378.5 67.8L378.7 67.8L378.9 67.8L379.1 67.8L379.2 67.8L379.4 67.7L379.6 67.7L379.8 67.7L380.0 67.7L380.2 67.7L380.3 67.7L380.5 67.7L380.7 67.7L380.9 67.7L381.1 67.7L381.3 67.7L381.4 67.7L381.6 67.7L381.8 67.7L382.0 67.7L382.2 67.7L382.4 67.7L382.5 67.8L382.7 67.8L382.9 67.8L383.1 67.8L383.3 67.8L383.5 67.8L383.7 67.9L383.8 67.9L384.0 67.9L384.2 67.9L384.4 67.9L384.6 68.0L384.8 68.0L384.9 68.0L385.1 68.0L385.3 68.1L385.5 68.1L385.7 68.1L385.9 68.1L386.0 68.2L386.2 68.2L386.4 68.2L386.6 68.3L386.8 68.3L387.0 68.3L387.1 68.3L387.3 68.4L387.5 68.4L387.7 68.4L387.9 68.4L388.1 68.4L388.3 68.5L388.4 68.5L388.6 68.5L388.8 68.5L389.0 68.5L389.2 68.6L389.4 68.6L389.5 68.6L389.7 68.6L389.9 68.6L390.1 68.6L390.3 68.6L390.5 68.6L390.6 68.7L390.8 68.7L391.0 68.7L391.2 68.7L391.4 68.7L391.6 68.7L391.7 68.7L391.9 68.7L392.1 68.7L392.3 68.7L392.5 68.7L392.7 68.7L392.9 68.7L393.0 68.7L393.2 68.7L393.4 68.7L393.6 68.7L393.8 68.7L394.0 68.7L394.1 68.7L394.3 68.7L394.5 68.7L394.7 68.7L394.9 68.7L395.1 68.7L395.2 68.7L395.4 68.7L395.6 68.7L395.8 68.7L396.0 68.7L396.2 68.7L396.3 68.7L396.5 68.7L396.7 68.7L396.9 68.7L397.1 68.7L397.3 68.7L397.5 68.7L397.6 68.7L397.8 68.7L398.0 68.7L398.2 68.7L398.4 68.7L398.6 68.7L398.7 68.7L398.9 68.7L399.1 68.7L399.3 68.7L399.5 68.7L399.7 68.7L399.8 68.7L400.0 68.7L400.2 68.7L400.4 68.7L400.6 68.7L400.8 68.7L400.9 68.6L401.1 68.6L401.3 68.6L401.5 68.6" stroke-width="4.3"/></g>
<g stroke="#8a8a8a" stroke-width="1" fill="none">
<rect x="25.5" y="1.5" width="384.0" height="236.2"/>
<path d="M33.50 237.7v-4.2M33.50 1.5v4.2M51.90 237.7v-2.5M51.90 1.5v2.5M70.30 237.7v-2.5M70.30 1.5v2.5M88.70 237.7v-2.5M88.70 1.5v2.5M107.10 237.7v-2.5M107.10 1.5v2.5M125.50 237.7v-4.2M125.50 1.5v4.2M143.90 237.7v-2.5M143.90 1.5v2.5M162.30 237.7v-2.5M162.30 1.5v2.5M180.70 237.7v-2.5M180.70 1.5v2.5M199.10 237.7v-2.5M199.10 1.5v2.5M217.50 237.7v-4.2M217.50 1.5v4.2M235.90 237.7v-2.5M235.90 1.5v2.5M254.30 237.7v-2.5M254.30 1.5v2.5M272.70 237.7v-2.5M272.70 1.5v2.5M291.10 237.7v-2.5M291.10 1.5v2.5M309.50 237.7v-4.2M309.50 1.5v4.2M327.90 237.7v-2.5M327.90 1.5v2.5M346.30 237.7v-2.5M346.30 1.5v2.5M364.70 237.7v-2.5M364.70 1.5v2.5M383.10 237.7v-2.5M383.10 1.5v2.5M401.50 237.7v-4.2M401.50 1.5v4.2M25.5 231.50h4.5M409.5 231.50h-4.5M25.5 220.30h2.7M409.5 220.30h-2.7M25.5 209.10h2.7M409.5 209.10h-2.7M25.5 197.90h2.7M409.5 197.90h-2.7M25.5 186.70h4.5M409.5 186.70h-4.5M25.5 175.50h2.7M409.5 175.50h-2.7M25.5 164.30h2.7M409.5 164.30h-2.7M25.5 153.10h2.7M409.5 153.10h-2.7M25.5 141.90h4.5M409.5 141.90h-4.5M25.5 130.70h2.7M409.5 130.70h-2.7M25.5 119.50h2.7M409.5 119.50h-2.7M25.5 108.30h2.7M409.5 108.30h-2.7M25.5 97.10h4.5M409.5 97.10h-4.5M25.5 85.90h2.7M409.5 85.90h-2.7M25.5 74.70h2.7M409.5 74.70h-2.7M25.5 63.50h2.7M409.5 63.50h-2.7M25.5 52.30h4.5M409.5 52.30h-4.5M25.5 41.10h2.7M409.5 41.10h-2.7M25.5 29.90h2.7M409.5 29.90h-2.7M25.5 18.70h2.7M409.5 18.70h-2.7M25.5 7.50h4.5M409.5 7.50h-4.5"/>
</g>
<path d="M353.7 83.2H376.4" stroke="#00aa00" stroke-width="1.5"/>
<path d="M353.7 107.0H376.4" stroke="#0000aa" stroke-width="1.9"/>
<path d="M353.7 130.9H376.4" stroke="#ff0000" stroke-width="1.9"/>
<path d="M353.7 154.7H376.4" stroke="#aaaa00" stroke-width="2.3"/>
<g style="filter:grayscale(1)">
<text x="377.0" y="86.8" class="t">ST</text>
<text x="377.0" y="110.6" class="t">BN</text>
<text x="377.0" y="134.5" class="t">CN</text>
<text x="377.0" y="158.3" class="t">PR</text>
<text x="21.3" y="236.9" class="t" text-anchor="end">0.0</text>
<text x="21.3" y="192.1" class="t" text-anchor="end">0.2</text>
<text x="21.3" y="147.3" class="t" text-anchor="end">0.4</text>
<text x="21.3" y="102.5" class="t" text-anchor="end">0.6</text>
<text x="21.3" y="57.7" class="t" text-anchor="end">0.8</text>
<text x="21.3" y="12.9" class="t" text-anchor="end">1.0</text>
<text x="33.1" y="253.7" class="t" text-anchor="middle">0</text>
<text x="125.1" y="253.7" class="t" text-anchor="middle">5</text>
<text x="217.1" y="253.7" class="t" text-anchor="middle">10</text>
<text x="309.1" y="253.7" class="t" text-anchor="middle">15</text>
<text x="401.1" y="253.7" class="t" text-anchor="middle">20</text>
<text x="217.3" y="279.6" class="t" text-anchor="middle">Scaled time</text>
<text x="282.3" y="116" class="t"><tspan font-style="italic">τ</tspan> = 10.0</text>
</g>
</svg>
</body></html>
